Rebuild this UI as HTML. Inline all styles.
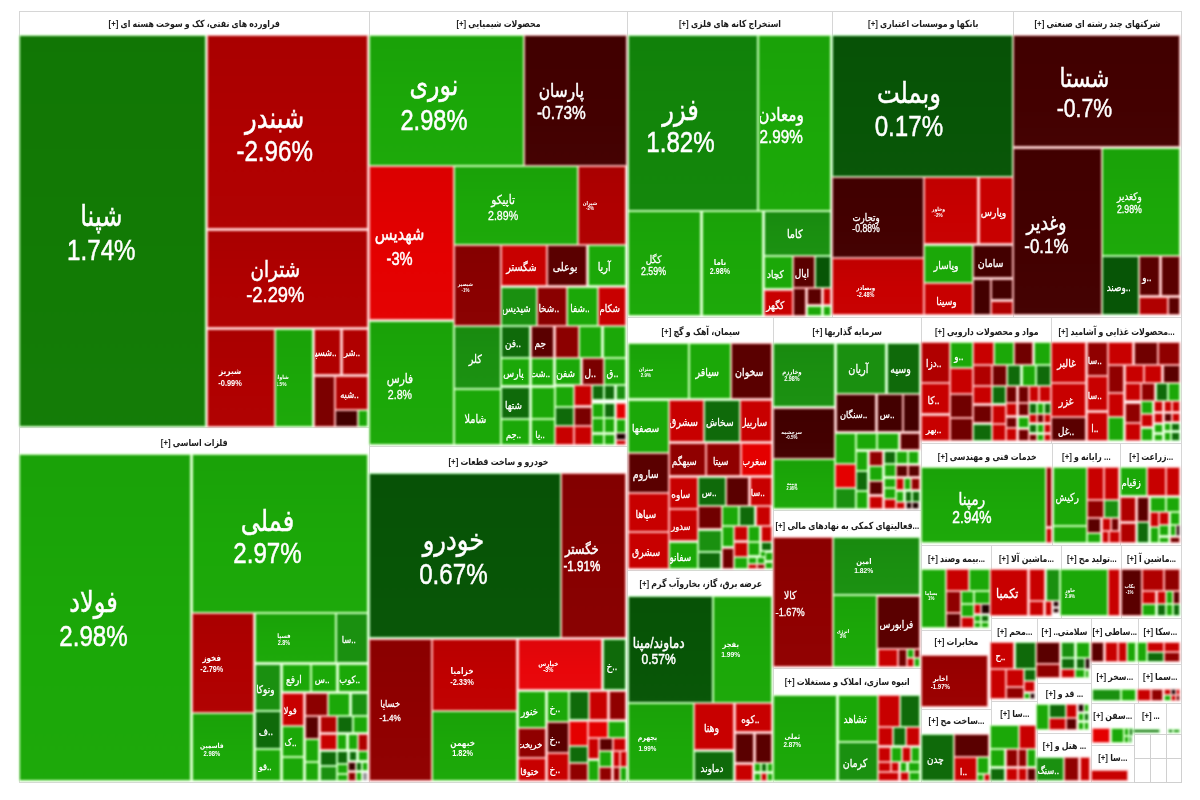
<!DOCTYPE html>
<html lang="fa">
<head>
<meta charset="utf-8">
<title>نقشه بازار</title>
<style>
html,body{margin:0;padding:0;background:#fff;}
body{width:1200px;height:800px;position:relative;overflow:hidden;font-family:"Liberation Sans","DejaVu Sans",sans-serif;}
.layer{position:absolute;left:0;top:0;width:1200px;height:800px;}
#frames{filter:blur(0.5px);}
#tiles{filter:blur(0.9px);}
#heads{filter:blur(0.35px);}
#labels{filter:blur(0.35px);}
.g{position:absolute;box-sizing:border-box;border:1px solid #d6d6d6;background:#fff;}
.h{position:absolute;text-align:center;direction:rtl;font-weight:bold;font-size:9.8px;color:#1c1c1c;white-space:nowrap;overflow:hidden;letter-spacing:-0.2px;}
.h span{display:block;transform:scaleX(.8);margin:0 -40px;}
.t{position:absolute;}
.gr{background-image:linear-gradient(180deg,rgba(0,0,0,.04) 0%,rgba(0,0,0,0) 60%,rgba(255,255,255,.012) 100%);}
.l{position:absolute;display:flex;flex-direction:column;align-items:center;justify-content:center;color:#fff;text-align:center;white-space:nowrap;box-sizing:border-box;overflow:hidden;}
.l span{display:block;transform:scaleX(0.8184);}
.l span.two{transform:translateX(-12.5px) scaleX(0.8184);}
.l b{font-weight:inherit;display:block;direction:rtl;}
.l i{font-style:normal;display:block;direction:ltr;}
.e{position:absolute;box-sizing:border-box;border:1px solid #d0d0d0;background:#fff;}
</style>
</head>
<body>
<div class="layer" id="frames">
<div class="g" style="left:19px;top:11px;width:350.5px;height:417px"></div>
<div class="g" style="left:368.5px;top:11px;width:259px;height:436px"></div>
<div class="g" style="left:626.5px;top:11px;width:206px;height:307px"></div>
<div class="g" style="left:831.5px;top:11px;width:182.5px;height:307px"></div>
<div class="g" style="left:1013px;top:11px;width:169px;height:307px"></div>
<div class="g" style="left:19px;top:427px;width:350.5px;height:356px"></div>
<div class="g" style="left:368.5px;top:446px;width:259px;height:337px"></div>
<div class="g" style="left:626.5px;top:317px;width:147.5px;height:254px"></div>
<div class="g" style="left:773px;top:317px;width:148.5px;height:194px"></div>
<div class="g" style="left:920.5px;top:317px;width:131.5px;height:127px"></div>
<div class="g" style="left:1051px;top:317px;width:131px;height:127px"></div>
<div class="g" style="left:626.5px;top:570px;width:147.5px;height:213px"></div>
<div class="g" style="left:773px;top:510px;width:148.5px;height:159px"></div>
<div class="g" style="left:773px;top:668px;width:148.5px;height:115px"></div>
<div class="g" style="left:920.5px;top:443px;width:132.5px;height:103px"></div>
<div class="g" style="left:1052px;top:443px;width:68.7px;height:103px"></div>
<div class="g" style="left:1119.7px;top:443px;width:62.3px;height:103px"></div>
<div class="g" style="left:920.5px;top:545px;width:71px;height:86px"></div>
<div class="g" style="left:990.5px;top:545px;width:71px;height:74px"></div>
<div class="g" style="left:1060.5px;top:545px;width:61.5px;height:74px"></div>
<div class="g" style="left:1121px;top:545px;width:61px;height:74px"></div>
<div class="g" style="left:920.5px;top:630px;width:71px;height:80px"></div>
<div class="g" style="left:920.5px;top:709px;width:71px;height:74px"></div>
<div class="g" style="left:990.5px;top:618px;width:47.5px;height:84px"></div>
<div class="g" style="left:990.5px;top:701px;width:47.5px;height:82px"></div>
<div class="g" style="left:1037px;top:618px;width:55px;height:66px"></div>
<div class="g" style="left:1037px;top:683px;width:55px;height:51px"></div>
<div class="g" style="left:1037px;top:733px;width:55px;height:50px"></div>
<div class="g" style="left:1091px;top:618px;width:47.5px;height:47px"></div>
<div class="g" style="left:1091px;top:664px;width:47.5px;height:40px"></div>
<div class="g" style="left:1091px;top:703px;width:43.5px;height:43px"></div>
<div class="g" style="left:1091px;top:745px;width:43.5px;height:38px"></div>
<div class="g" style="left:1137.5px;top:618px;width:44.5px;height:47px"></div>
<div class="g" style="left:1137.5px;top:664px;width:44.5px;height:40px"></div>
<div class="g" style="left:1133.5px;top:703px;width:33.5px;height:32px"></div>
<div class="g" style="left:1166px;top:703px;width:16px;height:32px"></div>
<div class="e" style="left:1133.5px;top:734px;width:17.5px;height:25px"></div>
<div class="e" style="left:1150px;top:734px;width:16.5px;height:25px"></div>
<div class="e" style="left:1165.5px;top:734px;width:16.5px;height:25px"></div>
<div class="e" style="left:1133.5px;top:758px;width:17.5px;height:25px"></div>
<div class="e" style="left:1150px;top:758px;width:16.5px;height:25px"></div>
<div class="e" style="left:1165.5px;top:758px;width:16.5px;height:25px"></div>
</div>
<div class="layer" id="tiles">
<div class="t gr" style="left:20.25px;top:36.25px;width:185.15px;height:389.5px;background-color:#127b05;box-shadow:0 0 0 1.1px #c1ffb4"></div>
<div class="t gr" style="left:207.6px;top:36.25px;width:159.4px;height:192.15px;background-color:#b00000;box-shadow:0 0 0 1.1px #ffafaf"></div>
<div class="t gr" style="left:207.6px;top:230.6px;width:159.4px;height:96.8px;background-color:#b00000;box-shadow:0 0 0 1.1px #ffafaf"></div>
<div class="t gr" style="left:207.6px;top:329.6px;width:66.3px;height:96.15px;background-color:#b00000;box-shadow:0 0 0 1.1px #ffafaf"></div>
<div class="t gr" style="left:276.1px;top:329.6px;width:36.3px;height:96.15px;background-color:#1ba808;box-shadow:0 0 0 1.1px #caffb7"></div>
<div class="t" style="left:314.6px;top:329.6px;width:25.8px;height:44.4px;background-color:#b00000;box-shadow:0 0 0 1.1px #ffafaf"></div>
<div class="t" style="left:342.6px;top:329.6px;width:24.4px;height:44.4px;background-color:#b00000;box-shadow:0 0 0 1.1px #ffafaf"></div>
<div class="t" style="left:314.6px;top:377px;width:19.3px;height:48.75px;background-color:#7c0000;box-shadow:0 0 0 1.1px #ffafaf"></div>
<div class="t" style="left:336.1px;top:377px;width:30.9px;height:31.9px;background-color:#b00000;box-shadow:0 0 0 1.1px #ffafaf"></div>
<div class="t" style="left:336.1px;top:411.1px;width:20.9px;height:14.65px;background-color:#430000;box-shadow:0 0 0 1.1px #f2afaf"></div>
<div class="t" style="left:359px;top:411.1px;width:8px;height:14.65px;background-color:#1ba808;box-shadow:0 0 0 1.1px #caffb7"></div>
<div class="t gr" style="left:370px;top:36.25px;width:152.5px;height:128.4px;background-color:#1ba808;box-shadow:0 0 0 1.1px #caffb7"></div>
<div class="t gr" style="left:524.5px;top:36.25px;width:101px;height:128.4px;background-color:#430000;box-shadow:0 0 0 1.1px #f2afaf"></div>
<div class="t gr" style="left:370px;top:166.85px;width:82.9px;height:152.15px;background-color:#e40000;box-shadow:0 0 0 1.1px #ffafaf"></div>
<div class="t gr" style="left:455.1px;top:166.85px;width:122.05px;height:77.05px;background-color:#1ba808;box-shadow:0 0 0 1.1px #caffb7"></div>
<div class="t gr" style="left:579.35px;top:166.85px;width:46.15px;height:77.05px;background-color:#b00000;box-shadow:0 0 0 1.1px #ffafaf"></div>
<div class="t gr" style="left:455.35px;top:246.1px;width:44.3px;height:78.55px;background-color:#8a0000;box-shadow:0 0 0 1.1px #ffafaf"></div>
<div class="t" style="left:501.85px;top:246.1px;width:44.3px;height:38.9px;background-color:#c80000;box-shadow:0 0 0 1.1px #ffafaf"></div>
<div class="t" style="left:548.35px;top:246.1px;width:38.05px;height:38.9px;background-color:#5a0000;box-shadow:0 0 0 1.1px #ffafaf"></div>
<div class="t" style="left:588.6px;top:246.1px;width:36.9px;height:38.9px;background-color:#1ba808;box-shadow:0 0 0 1.1px #caffb7"></div>
<div class="t" style="left:501.85px;top:288px;width:33.8px;height:36.9px;background-color:#1a9010;box-shadow:0 0 0 1.1px #c9ffbf"></div>
<div class="t" style="left:537.85px;top:288px;width:28.3px;height:36.9px;background-color:#8a0000;box-shadow:0 0 0 1.1px #ffafaf"></div>
<div class="t" style="left:568.35px;top:288px;width:28.3px;height:36.9px;background-color:#1ba808;box-shadow:0 0 0 1.1px #caffb7"></div>
<div class="t" style="left:598.85px;top:288px;width:26.65px;height:36.9px;background-color:#c80000;box-shadow:0 0 0 1.1px #ffafaf"></div>
<div class="t gr" style="left:370px;top:321.5px;width:83.15px;height:122.75px;background-color:#1ba808;box-shadow:0 0 0 1.1px #caffb7"></div>
<div class="t gr" style="left:455.35px;top:326.85px;width:44.55px;height:61.3px;background-color:#1a9010;box-shadow:0 0 0 1.1px #c9ffbf"></div>
<div class="t" style="left:455.35px;top:390.35px;width:44.55px;height:53.9px;background-color:#1ba808;box-shadow:0 0 0 1.1px #caffb7"></div>
<div class="t" style="left:502.1px;top:327.1px;width:27.3px;height:29.8px;background-color:#0f6a0a;box-shadow:0 0 0 1.1px #beffb9"></div>
<div class="t" style="left:531.6px;top:327.1px;width:21.8px;height:29.8px;background-color:#5a0000;box-shadow:0 0 0 1.1px #ffafaf"></div>
<div class="t" style="left:555.6px;top:327.1px;width:22.05px;height:29.8px;background-color:#8c0000;box-shadow:0 0 0 1.1px #ffafaf"></div>
<div class="t" style="left:579.85px;top:327.1px;width:21.55px;height:29.8px;background-color:#1ba808;box-shadow:0 0 0 1.1px #caffb7"></div>
<div class="t" style="left:603.6px;top:327.1px;width:21.9px;height:29.8px;background-color:#1ba808;box-shadow:0 0 0 1.1px #caffb7"></div>
<div class="t" style="left:502.1px;top:359.1px;width:27.3px;height:25.9px;background-color:#1ba808;box-shadow:0 0 0 1.1px #caffb7"></div>
<div class="t" style="left:531.6px;top:359.1px;width:21.8px;height:25.9px;background-color:#1ba808;box-shadow:0 0 0 1.1px #caffb7"></div>
<div class="t" style="left:555.6px;top:359.1px;width:24.8px;height:24.9px;background-color:#1ba808;box-shadow:0 0 0 1.1px #caffb7"></div>
<div class="t" style="left:582.6px;top:359.1px;width:20.05px;height:24.9px;background-color:#7a0000;box-shadow:0 0 0 1.1px #ffafaf"></div>
<div class="t" style="left:604.85px;top:359.1px;width:20.65px;height:24.9px;background-color:#1ba808;box-shadow:0 0 0 1.1px #caffb7"></div>
<div class="t" style="left:502.1px;top:388px;width:27.3px;height:30.15px;background-color:#0f6a0a;box-shadow:0 0 0 1.1px #beffb9"></div>
<div class="t" style="left:531.6px;top:388px;width:22.3px;height:30.15px;background-color:#1ba808;box-shadow:0 0 0 1.1px #caffb7"></div>
<div class="t" style="left:502.1px;top:420.35px;width:27.3px;height:23.9px;background-color:#1ba808;box-shadow:0 0 0 1.1px #caffb7"></div>
<div class="t" style="left:531.6px;top:420.35px;width:22.3px;height:23.9px;background-color:#1ba808;box-shadow:0 0 0 1.1px #caffb7"></div>
<div class="t" style="left:556.1px;top:386.85px;width:17.05px;height:19.05px;background-color:#1ba808;box-shadow:0 0 0 1.1px #caffb7"></div>
<div class="t" style="left:575.35px;top:386px;width:15.55px;height:19px;background-color:#c80000;box-shadow:0 0 0 1.1px #ffafaf"></div>
<div class="t" style="left:593.1px;top:386px;width:9.55px;height:12.5px;background-color:#0f6a0a;box-shadow:0 0 0 1.1px #beffb9"></div>
<div class="t" style="left:604.85px;top:386px;width:9.55px;height:12.5px;background-color:#0f6a0a;box-shadow:0 0 0 1.1px #beffb9"></div>
<div class="t" style="left:616.6px;top:386px;width:8.9px;height:12.5px;background-color:#1a9010;box-shadow:0 0 0 1.1px #c9ffbf"></div>
<div class="t" style="left:556.1px;top:408.1px;width:17.05px;height:16.55px;background-color:#0f6a0a;box-shadow:0 0 0 1.1px #beffb9"></div>
<div class="t" style="left:575.35px;top:408px;width:15.55px;height:16.65px;background-color:#7a0000;box-shadow:0 0 0 1.1px #ffafaf"></div>
<div class="t" style="left:593.1px;top:404px;width:9.55px;height:12.9px;background-color:#1ba808;box-shadow:0 0 0 1.1px #caffb7"></div>
<div class="t" style="left:604.85px;top:404px;width:9.55px;height:12.9px;background-color:#0f6a0a;box-shadow:0 0 0 1.1px #beffb9"></div>
<div class="t" style="left:616.6px;top:404px;width:8.9px;height:13.65px;background-color:#e40000;box-shadow:0 0 0 1.1px #ffafaf"></div>
<div class="t" style="left:556.1px;top:426.85px;width:17.05px;height:17.4px;background-color:#c80000;box-shadow:0 0 0 1.1px #ffafaf"></div>
<div class="t" style="left:575.35px;top:426.85px;width:15.55px;height:17.4px;background-color:#c80000;box-shadow:0 0 0 1.1px #ffafaf"></div>
<div class="t" style="left:593.1px;top:419.1px;width:9.55px;height:12.9px;background-color:#1ba808;box-shadow:0 0 0 1.1px #caffb7"></div>
<div class="t" style="left:604.85px;top:419.1px;width:9.55px;height:12.9px;background-color:#1ba808;box-shadow:0 0 0 1.1px #caffb7"></div>
<div class="t" style="left:616.6px;top:419.85px;width:8.9px;height:12.05px;background-color:#1ba808;box-shadow:0 0 0 1.1px #caffb7"></div>
<div class="t" style="left:593.1px;top:435px;width:9.55px;height:9.25px;background-color:#1ba808;box-shadow:0 0 0 1.1px #caffb7"></div>
<div class="t" style="left:604.85px;top:435px;width:9.55px;height:9.25px;background-color:#1ba808;box-shadow:0 0 0 1.1px #caffb7"></div>
<div class="t" style="left:616.6px;top:434.1px;width:8.9px;height:4.9px;background-color:#1c0000;box-shadow:0 0 0 1.1px #cbafaf"></div>
<div class="t" style="left:616.6px;top:441px;width:8.9px;height:3.25px;background-color:#c80000;box-shadow:0 0 0 1.1px #ffafaf"></div>
<div class="t gr" style="left:628.5px;top:36.25px;width:128.15px;height:173.4px;background-color:#12860a;box-shadow:0 0 0 1.1px #c1ffb9"></div>
<div class="t gr" style="left:758.85px;top:36.25px;width:71.15px;height:173.4px;background-color:#1ba808;box-shadow:0 0 0 1.1px #caffb7"></div>
<div class="t gr" style="left:628.5px;top:211.85px;width:71.9px;height:102.9px;background-color:#1ba808;box-shadow:0 0 0 1.1px #caffb7"></div>
<div class="t gr" style="left:702.6px;top:211.85px;width:59.8px;height:102.9px;background-color:#1ba808;box-shadow:0 0 0 1.1px #caffb7"></div>
<div class="t gr" style="left:764.6px;top:211.85px;width:65.4px;height:42.8px;background-color:#1a9010;box-shadow:0 0 0 1.1px #c9ffbf"></div>
<div class="t" style="left:764.6px;top:256.85px;width:27.05px;height:31.65px;background-color:#1ba808;box-shadow:0 0 0 1.1px #caffb7"></div>
<div class="t" style="left:793.85px;top:256.85px;width:20.15px;height:30.05px;background-color:#5a0000;box-shadow:0 0 0 1.1px #ffafaf"></div>
<div class="t" style="left:816px;top:256.85px;width:14px;height:30.05px;background-color:#075506;box-shadow:0 0 0 1.1px #b6ffb5"></div>
<div class="t" style="left:764.6px;top:291px;width:27.05px;height:23.75px;background-color:#c80000;box-shadow:0 0 0 1.1px #ffafaf"></div>
<div class="t" style="left:793.85px;top:289.1px;width:11.55px;height:25.65px;background-color:#5a0000;box-shadow:0 0 0 1.1px #ffafaf"></div>
<div class="t" style="left:807.6px;top:289.1px;width:13.8px;height:15.3px;background-color:#5a0000;box-shadow:0 0 0 1.1px #ffafaf"></div>
<div class="t" style="left:823.6px;top:289.1px;width:6.4px;height:15.3px;background-color:#c80000;box-shadow:0 0 0 1.1px #ffafaf"></div>
<div class="t" style="left:807.6px;top:306.6px;width:13.8px;height:8.15px;background-color:#1ba808;box-shadow:0 0 0 1.1px #caffb7"></div>
<div class="t" style="left:823.6px;top:306.6px;width:6.4px;height:8.15px;background-color:#1ba808;box-shadow:0 0 0 1.1px #caffb7"></div>
<div class="t gr" style="left:833px;top:36.25px;width:178.9px;height:139.65px;background-color:#075506;box-shadow:0 0 0 1.1px #b6ffb5"></div>
<div class="t gr" style="left:833px;top:178.1px;width:90.15px;height:78.8px;background-color:#430000;box-shadow:0 0 0 1.1px #f2afaf"></div>
<div class="t gr" style="left:833px;top:259.1px;width:90.15px;height:55.15px;background-color:#c80000;box-shadow:0 0 0 1.1px #ffafaf"></div>
<div class="t gr" style="left:925.35px;top:178.1px;width:52.05px;height:65.4px;background-color:#c80000;box-shadow:0 0 0 1.1px #ffafaf"></div>
<div class="t" style="left:979.6px;top:178.1px;width:32.3px;height:65.4px;background-color:#c80000;box-shadow:0 0 0 1.1px #ffafaf"></div>
<div class="t" style="left:925.35px;top:246px;width:46.8px;height:35.9px;background-color:#1ba808;box-shadow:0 0 0 1.1px #caffb7"></div>
<div class="t" style="left:974.35px;top:246px;width:37.55px;height:31.4px;background-color:#430000;box-shadow:0 0 0 1.1px #f2afaf"></div>
<div class="t" style="left:925.35px;top:284.1px;width:46.8px;height:30.15px;background-color:#c80000;box-shadow:0 0 0 1.1px #ffafaf"></div>
<div class="t" style="left:974.35px;top:279.6px;width:15.55px;height:34.65px;background-color:#430000;box-shadow:0 0 0 1.1px #f2afaf"></div>
<div class="t" style="left:992.1px;top:279.6px;width:19.8px;height:19.8px;background-color:#430000;box-shadow:0 0 0 1.1px #f2afaf"></div>
<div class="t" style="left:992.1px;top:301.6px;width:19.8px;height:12.65px;background-color:#b00000;box-shadow:0 0 0 1.1px #ffafaf"></div>
<div class="t gr" style="left:1014.1px;top:36.25px;width:164.65px;height:110.15px;background-color:#430000;box-shadow:0 0 0 1.1px #f2afaf"></div>
<div class="t gr" style="left:1014.1px;top:148.6px;width:87.05px;height:165.65px;background-color:#430000;box-shadow:0 0 0 1.1px #f2afaf"></div>
<div class="t gr" style="left:1103.35px;top:148.6px;width:75.4px;height:106.05px;background-color:#1ba808;box-shadow:0 0 0 1.1px #caffb7"></div>
<div class="t" style="left:1103.35px;top:256.85px;width:34.55px;height:57.4px;background-color:#075506;box-shadow:0 0 0 1.1px #b6ffb5"></div>
<div class="t" style="left:1140.1px;top:256.85px;width:19.3px;height:38.15px;background-color:#5a0000;box-shadow:0 0 0 1.1px #ffafaf"></div>
<div class="t" style="left:1161.6px;top:256.85px;width:17.15px;height:38.15px;background-color:#5a0000;box-shadow:0 0 0 1.1px #ffafaf"></div>
<div class="t" style="left:1140.1px;top:298px;width:26.8px;height:16.25px;background-color:#b00000;box-shadow:0 0 0 1.1px #ffafaf"></div>
<div class="t" style="left:1169.1px;top:298px;width:9.65px;height:16.25px;background-color:#5a0000;box-shadow:0 0 0 1.1px #ffafaf"></div>
<div class="t gr" style="left:20.25px;top:455.25px;width:170.15px;height:325px;background-color:#1ba808;box-shadow:0 0 0 1.1px #caffb7"></div>
<div class="t gr" style="left:192.6px;top:455.25px;width:174.4px;height:156.4px;background-color:#1ba808;box-shadow:0 0 0 1.1px #caffb7"></div>
<div class="t gr" style="left:192.6px;top:613.85px;width:60.8px;height:97.8px;background-color:#b00000;box-shadow:0 0 0 1.1px #ffafaf"></div>
<div class="t gr" style="left:192.6px;top:713.85px;width:60.8px;height:66.4px;background-color:#1ba808;box-shadow:0 0 0 1.1px #caffb7"></div>
<div class="t gr" style="left:255.6px;top:613.85px;width:79.3px;height:48.15px;background-color:#1ba808;box-shadow:0 0 0 1.1px #caffb7"></div>
<div class="t" style="left:337.1px;top:613.85px;width:29.9px;height:48.15px;background-color:#1a9010;box-shadow:0 0 0 1.1px #c9ffbf"></div>
<div class="t" style="left:255.6px;top:664.5px;width:24.8px;height:45.15px;background-color:#1a9010;box-shadow:0 0 0 1.1px #c9ffbf"></div>
<div class="t" style="left:282.6px;top:664.5px;width:27.3px;height:26.9px;background-color:#1ba808;box-shadow:0 0 0 1.1px #caffb7"></div>
<div class="t" style="left:312.1px;top:664.5px;width:24.3px;height:26.9px;background-color:#1ba808;box-shadow:0 0 0 1.1px #caffb7"></div>
<div class="t" style="left:338.6px;top:664.5px;width:28.4px;height:26.9px;background-color:#1ba808;box-shadow:0 0 0 1.1px #caffb7"></div>
<div class="t" style="left:255.6px;top:711.85px;width:24.8px;height:36.05px;background-color:#0f6a0a;box-shadow:0 0 0 1.1px #beffb9"></div>
<div class="t" style="left:255.6px;top:750.1px;width:24.8px;height:30.15px;background-color:#1ba808;box-shadow:0 0 0 1.1px #caffb7"></div>
<div class="t" style="left:282.6px;top:693.6px;width:20.8px;height:31.05px;background-color:#c80000;box-shadow:0 0 0 1.1px #ffafaf"></div>
<div class="t" style="left:282.6px;top:726.85px;width:20.8px;height:29.05px;background-color:#1ba808;box-shadow:0 0 0 1.1px #caffb7"></div>
<div class="t" style="left:282.6px;top:758.1px;width:20.8px;height:22.15px;background-color:#1ba808;box-shadow:0 0 0 1.1px #caffb7"></div>
<div class="t" style="left:305.6px;top:693.6px;width:21.05px;height:21.05px;background-color:#8c0000;box-shadow:0 0 0 1.1px #ffafaf"></div>
<div class="t" style="left:328.85px;top:693.6px;width:20.55px;height:21.05px;background-color:#1ba808;box-shadow:0 0 0 1.1px #caffb7"></div>
<div class="t" style="left:351.6px;top:693.6px;width:15.4px;height:21.05px;background-color:#1a9010;box-shadow:0 0 0 1.1px #c9ffbf"></div>
<div class="t" style="left:305.6px;top:716.85px;width:12.8px;height:21.3px;background-color:#5a0000;box-shadow:0 0 0 1.1px #ffafaf"></div>
<div class="t" style="left:320.6px;top:716.85px;width:15.55px;height:15.15px;background-color:#b00000;box-shadow:0 0 0 1.1px #ffafaf"></div>
<div class="t" style="left:338.35px;top:716.85px;width:13.3px;height:15.15px;background-color:#0f6a0a;box-shadow:0 0 0 1.1px #beffb9"></div>
<div class="t" style="left:353.85px;top:716.85px;width:13.15px;height:15.15px;background-color:#1ba808;box-shadow:0 0 0 1.1px #caffb7"></div>
<div class="t" style="left:305.6px;top:740.35px;width:12.8px;height:20.55px;background-color:#1ba808;box-shadow:0 0 0 1.1px #caffb7"></div>
<div class="t" style="left:305.6px;top:763.1px;width:12.8px;height:17.15px;background-color:#1ba808;box-shadow:0 0 0 1.1px #caffb7"></div>
<div class="t" style="left:320.6px;top:735px;width:15.55px;height:13.5px;background-color:#c80000;box-shadow:0 0 0 1.1px #ffafaf"></div>
<div class="t" style="left:338.35px;top:735px;width:8.05px;height:13.5px;background-color:#1ba808;box-shadow:0 0 0 1.1px #caffb7"></div>
<div class="t" style="left:348.6px;top:735px;width:8.05px;height:13.5px;background-color:#1ba808;box-shadow:0 0 0 1.1px #caffb7"></div>
<div class="t" style="left:358.85px;top:735px;width:8.15px;height:14.65px;background-color:#b00000;box-shadow:0 0 0 1.1px #ffafaf"></div>
<div class="t" style="left:320.6px;top:751.5px;width:15.55px;height:13.4px;background-color:#0f6a0a;box-shadow:0 0 0 1.1px #beffb9"></div>
<div class="t" style="left:338.35px;top:751.5px;width:9.05px;height:11.4px;background-color:#0f6a0a;box-shadow:0 0 0 1.1px #beffb9"></div>
<div class="t" style="left:349.6px;top:751.5px;width:6.8px;height:8.9px;background-color:#0f6a0a;box-shadow:0 0 0 1.1px #beffb9"></div>
<div class="t" style="left:358.6px;top:751.85px;width:8.4px;height:8.55px;background-color:#1ba808;box-shadow:0 0 0 1.1px #caffb7"></div>
<div class="t" style="left:320.6px;top:767.1px;width:15.55px;height:13.15px;background-color:#1a9010;box-shadow:0 0 0 1.1px #c9ffbf"></div>
<div class="t" style="left:338.35px;top:765.1px;width:8.8px;height:7.55px;background-color:#1ba808;box-shadow:0 0 0 1.1px #caffb7"></div>
<div class="t" style="left:349.35px;top:762.6px;width:5.3px;height:7.8px;background-color:#3a0000;box-shadow:0 0 0 1.1px #e9afaf"></div>
<div class="t" style="left:356.85px;top:762.6px;width:4.15px;height:7.8px;background-color:#0f6a0a;box-shadow:0 0 0 1.1px #beffb9"></div>
<div class="t" style="left:363px;top:762.6px;width:4px;height:7.8px;background-color:#1ba808;box-shadow:0 0 0 1.1px #caffb7"></div>
<div class="t" style="left:338.35px;top:774.85px;width:8.8px;height:5.4px;background-color:#1ba808;box-shadow:0 0 0 1.1px #caffb7"></div>
<div class="t" style="left:349.35px;top:772.6px;width:5.3px;height:7.65px;background-color:#8c0000;box-shadow:0 0 0 1.1px #ffafaf"></div>
<div class="t" style="left:356.85px;top:772.6px;width:4.15px;height:7.65px;background-color:#1ba808;box-shadow:0 0 0 1.1px #caffb7"></div>
<div class="t" style="left:363px;top:772.6px;width:4px;height:7.65px;background-color:#999;box-shadow:0 0 0 1.1px #ffffff"></div>
<div class="t gr" style="left:370px;top:474.25px;width:189.65px;height:162.75px;background-color:#075506;box-shadow:0 0 0 1.1px #b6ffb5"></div>
<div class="t gr" style="left:561.85px;top:474.25px;width:63.65px;height:162.75px;background-color:#880000;box-shadow:0 0 0 1.1px #ffafaf"></div>
<div class="t gr" style="left:370px;top:640px;width:60.9px;height:139.75px;background-color:#900000;box-shadow:0 0 0 1.1px #ffafaf"></div>
<div class="t gr" style="left:433.1px;top:640px;width:82.9px;height:69.65px;background-color:#c00000;box-shadow:0 0 0 1.1px #ffafaf"></div>
<div class="t gr" style="left:433.1px;top:711.85px;width:82.9px;height:67.9px;background-color:#1ba808;box-shadow:0 0 0 1.1px #caffb7"></div>
<div class="t gr" style="left:518.5px;top:640px;width:82.9px;height:49px;background-color:#e8060a;box-shadow:0 0 0 1.1px #ffb5b9"></div>
<div class="t" style="left:603.6px;top:640px;width:21.9px;height:49px;background-color:#0f6a0a;box-shadow:0 0 0 1.1px #beffb9"></div>
<div class="t" style="left:518.5px;top:691.5px;width:26.9px;height:35.4px;background-color:#1ba808;box-shadow:0 0 0 1.1px #caffb7"></div>
<div class="t" style="left:547.6px;top:691.5px;width:20.3px;height:29.4px;background-color:#1ba808;box-shadow:0 0 0 1.1px #caffb7"></div>
<div class="t" style="left:570.1px;top:691.5px;width:18.05px;height:27px;background-color:#0f6a0a;box-shadow:0 0 0 1.1px #beffb9"></div>
<div class="t" style="left:590.35px;top:691.5px;width:17.05px;height:27px;background-color:#c80000;box-shadow:0 0 0 1.1px #ffafaf"></div>
<div class="t" style="left:609.6px;top:691.5px;width:15.9px;height:27px;background-color:#900000;box-shadow:0 0 0 1.1px #ffafaf"></div>
<div class="t" style="left:518.5px;top:729.1px;width:26.9px;height:27.8px;background-color:#900000;box-shadow:0 0 0 1.1px #ffafaf"></div>
<div class="t" style="left:518.5px;top:759.1px;width:26.9px;height:20.65px;background-color:#c80000;box-shadow:0 0 0 1.1px #ffafaf"></div>
<div class="t" style="left:547.6px;top:723.1px;width:20.3px;height:28.8px;background-color:#5a0000;box-shadow:0 0 0 1.1px #ffafaf"></div>
<div class="t" style="left:547.6px;top:754.1px;width:20.3px;height:25.65px;background-color:#c80000;box-shadow:0 0 0 1.1px #ffafaf"></div>
<div class="t" style="left:570.1px;top:721.5px;width:16.55px;height:23.15px;background-color:#e40000;box-shadow:0 0 0 1.1px #ffafaf"></div>
<div class="t" style="left:588.85px;top:721.5px;width:17.8px;height:15.4px;background-color:#e40000;box-shadow:0 0 0 1.1px #ffafaf"></div>
<div class="t" style="left:608.85px;top:721.5px;width:16.65px;height:15.4px;background-color:#1ba808;box-shadow:0 0 0 1.1px #caffb7"></div>
<div class="t" style="left:570.1px;top:746.85px;width:16.55px;height:15.05px;background-color:#0f6a0a;box-shadow:0 0 0 1.1px #beffb9"></div>
<div class="t" style="left:570.1px;top:764.1px;width:16.55px;height:15.65px;background-color:#900000;box-shadow:0 0 0 1.1px #ffafaf"></div>
<div class="t" style="left:588.85px;top:739.1px;width:9.3px;height:19.4px;background-color:#c80000;box-shadow:0 0 0 1.1px #ffafaf"></div>
<div class="t" style="left:600.35px;top:739.1px;width:11.3px;height:10.8px;background-color:#5a0000;box-shadow:0 0 0 1.1px #ffafaf"></div>
<div class="t" style="left:613.85px;top:739.1px;width:11.65px;height:10.8px;background-color:#c80000;box-shadow:0 0 0 1.1px #ffafaf"></div>
<div class="t" style="left:588.85px;top:761px;width:9.3px;height:18.75px;background-color:#1ba808;box-shadow:0 0 0 1.1px #caffb7"></div>
<div class="t" style="left:600.35px;top:752.1px;width:11.05px;height:13.8px;background-color:#1ba808;box-shadow:0 0 0 1.1px #caffb7"></div>
<div class="t" style="left:613.6px;top:752.1px;width:5.4px;height:13.8px;background-color:#c80000;box-shadow:0 0 0 1.1px #ffafaf"></div>
<div class="t" style="left:621px;top:752.1px;width:4.5px;height:13.8px;background-color:#c80000;box-shadow:0 0 0 1.1px #ffafaf"></div>
<div class="t" style="left:600.35px;top:768.1px;width:11.05px;height:11.65px;background-color:#900000;box-shadow:0 0 0 1.1px #ffafaf"></div>
<div class="t" style="left:613.6px;top:768.1px;width:5.4px;height:11.65px;background-color:#900000;box-shadow:0 0 0 1.1px #ffafaf"></div>
<div class="t" style="left:621px;top:768.1px;width:4.5px;height:11.65px;background-color:#1ba808;box-shadow:0 0 0 1.1px #caffb7"></div>
<div class="t gr" style="left:628.5px;top:344.25px;width:59.65px;height:53.75px;background-color:#1ba808;box-shadow:0 0 0 1.1px #caffb7"></div>
<div class="t" style="left:690.35px;top:344.25px;width:39.55px;height:53.75px;background-color:#1ba808;box-shadow:0 0 0 1.1px #caffb7"></div>
<div class="t" style="left:732.1px;top:344.25px;width:39.4px;height:53.75px;background-color:#5a0000;box-shadow:0 0 0 1.1px #ffafaf"></div>
<div class="t" style="left:628.5px;top:401px;width:39.15px;height:50.9px;background-color:#1ba808;box-shadow:0 0 0 1.1px #caffb7"></div>
<div class="t" style="left:669.85px;top:401px;width:33.3px;height:40px;background-color:#c80000;box-shadow:0 0 0 1.1px #ffafaf"></div>
<div class="t" style="left:705.35px;top:401px;width:33.55px;height:40px;background-color:#0f6a0a;box-shadow:0 0 0 1.1px #beffb9"></div>
<div class="t" style="left:741.1px;top:401px;width:30.4px;height:40px;background-color:#c80000;box-shadow:0 0 0 1.1px #ffafaf"></div>
<div class="t" style="left:669.85px;top:444px;width:35.05px;height:31px;background-color:#900000;box-shadow:0 0 0 1.1px #ffafaf"></div>
<div class="t" style="left:707.1px;top:444px;width:33.05px;height:31px;background-color:#900000;box-shadow:0 0 0 1.1px #ffafaf"></div>
<div class="t" style="left:742.35px;top:444px;width:29.15px;height:31px;background-color:#e40000;box-shadow:0 0 0 1.1px #ffafaf"></div>
<div class="t" style="left:628.5px;top:454.1px;width:39.15px;height:37.8px;background-color:#5a0000;box-shadow:0 0 0 1.1px #ffafaf"></div>
<div class="t" style="left:628.5px;top:494.1px;width:39.15px;height:36.8px;background-color:#c80000;box-shadow:0 0 0 1.1px #ffafaf"></div>
<div class="t" style="left:628.5px;top:533.1px;width:39.15px;height:34.65px;background-color:#c80000;box-shadow:0 0 0 1.1px #ffafaf"></div>
<div class="t" style="left:669.85px;top:478px;width:27.05px;height:29.9px;background-color:#c80000;box-shadow:0 0 0 1.1px #ffafaf"></div>
<div class="t" style="left:669.85px;top:510.1px;width:27.05px;height:30.4px;background-color:#c80000;box-shadow:0 0 0 1.1px #ffafaf"></div>
<div class="t" style="left:669.85px;top:543px;width:27.05px;height:24.75px;background-color:#1ba808;box-shadow:0 0 0 1.1px #caffb7"></div>
<div class="t" style="left:699.1px;top:478px;width:25.8px;height:26.9px;background-color:#0f6a0a;box-shadow:0 0 0 1.1px #beffb9"></div>
<div class="t" style="left:727.1px;top:478px;width:21.3px;height:26.9px;background-color:#5a0000;box-shadow:0 0 0 1.1px #ffafaf"></div>
<div class="t" style="left:750.6px;top:478px;width:20.9px;height:26.9px;background-color:#c80000;box-shadow:0 0 0 1.1px #ffafaf"></div>
<div class="t" style="left:699.1px;top:507.1px;width:21.8px;height:20.9px;background-color:#700000;box-shadow:0 0 0 1.1px #ffafaf"></div>
<div class="t" style="left:723.1px;top:507.1px;width:15.05px;height:17.8px;background-color:#1ba808;box-shadow:0 0 0 1.1px #caffb7"></div>
<div class="t" style="left:740.35px;top:507.1px;width:14.05px;height:17.8px;background-color:#0f6a0a;box-shadow:0 0 0 1.1px #beffb9"></div>
<div class="t" style="left:756.6px;top:507.1px;width:13.65px;height:17.8px;background-color:#c80000;box-shadow:0 0 0 1.1px #ffafaf"></div>
<div class="t" style="left:699.1px;top:531px;width:21.8px;height:19.5px;background-color:#1a9010;box-shadow:0 0 0 1.1px #c9ffbf"></div>
<div class="t" style="left:723.1px;top:527.1px;width:9.8px;height:18.9px;background-color:#1ba808;box-shadow:0 0 0 1.1px #caffb7"></div>
<div class="t" style="left:735.1px;top:527.1px;width:11.8px;height:12.9px;background-color:#c80000;box-shadow:0 0 0 1.1px #ffafaf"></div>
<div class="t" style="left:749.1px;top:527.1px;width:10.3px;height:13.8px;background-color:#1ba808;box-shadow:0 0 0 1.1px #caffb7"></div>
<div class="t" style="left:761.6px;top:527.1px;width:9.9px;height:13.8px;background-color:#c80000;box-shadow:0 0 0 1.1px #ffafaf"></div>
<div class="t" style="left:699.1px;top:553px;width:21.3px;height:14.75px;background-color:#0f6a0a;box-shadow:0 0 0 1.1px #beffb9"></div>
<div class="t" style="left:722.6px;top:549px;width:10.3px;height:18.75px;background-color:#700000;box-shadow:0 0 0 1.1px #ffafaf"></div>
<div class="t" style="left:735.1px;top:543px;width:11.8px;height:12.9px;background-color:#c80000;box-shadow:0 0 0 1.1px #ffafaf"></div>
<div class="t" style="left:735.1px;top:558.1px;width:11.8px;height:9.65px;background-color:#1ba808;box-shadow:0 0 0 1.1px #caffb7"></div>
<div class="t" style="left:749.1px;top:543.1px;width:9.9px;height:12.3px;background-color:#1ba808;box-shadow:0 0 0 1.1px #caffb7"></div>
<div class="t" style="left:761.6px;top:543.1px;width:9.9px;height:6.9px;background-color:#0f6a0a;box-shadow:0 0 0 1.1px #beffb9"></div>
<div class="t" style="left:749.1px;top:557.6px;width:6.9px;height:5.4px;background-color:#1ba808;box-shadow:0 0 0 1.1px #caffb7"></div>
<div class="t" style="left:758px;top:558px;width:6px;height:5px;background-color:#1ba808;box-shadow:0 0 0 1.1px #caffb7"></div>
<div class="t" style="left:766px;top:552.6px;width:5.5px;height:7.8px;background-color:#1ba808;box-shadow:0 0 0 1.1px #caffb7"></div>
<div class="t" style="left:761px;top:551.5px;width:3.5px;height:4.5px;background-color:#1ba808;box-shadow:0 0 0 1.1px #caffb7"></div>
<div class="t" style="left:749.1px;top:565px;width:6.9px;height:2.75px;background-color:#c80000;box-shadow:0 0 0 1.1px #ffafaf"></div>
<div class="t" style="left:758px;top:565px;width:6px;height:2.75px;background-color:#8c0000;box-shadow:0 0 0 1.1px #ffafaf"></div>
<div class="t" style="left:766px;top:562.6px;width:5.5px;height:5.15px;background-color:#1ba808;box-shadow:0 0 0 1.1px #caffb7"></div>
<div class="t gr" style="left:774px;top:344.25px;width:60.4px;height:61.75px;background-color:#1a9010;box-shadow:0 0 0 1.1px #c9ffbf"></div>
<div class="t" style="left:836.6px;top:344.25px;width:48.8px;height:48.65px;background-color:#1a9010;box-shadow:0 0 0 1.1px #c9ffbf"></div>
<div class="t" style="left:887.6px;top:344.25px;width:31.4px;height:48.65px;background-color:#0f6a0a;box-shadow:0 0 0 1.1px #beffb9"></div>
<div class="t gr" style="left:774px;top:408.5px;width:60.2px;height:49.65px;background-color:#430000;box-shadow:0 0 0 1.1px #f2afaf"></div>
<div class="t" style="left:836.6px;top:395.1px;width:38.8px;height:35.9px;background-color:#430000;box-shadow:0 0 0 1.1px #f2afaf"></div>
<div class="t" style="left:877.6px;top:395.1px;width:24.05px;height:35.9px;background-color:#430000;box-shadow:0 0 0 1.1px #f2afaf"></div>
<div class="t" style="left:903.85px;top:395.1px;width:15.15px;height:35.9px;background-color:#430000;box-shadow:0 0 0 1.1px #f2afaf"></div>
<div class="t gr" style="left:774px;top:460.35px;width:59.7px;height:47.4px;background-color:#1ba808;box-shadow:0 0 0 1.1px #caffb7"></div>
<div class="t" style="left:836.4px;top:433.7px;width:18.6px;height:29.35px;background-color:#1ba808;box-shadow:0 0 0 1.1px #caffb7"></div>
<div class="t" style="left:857.2px;top:433.7px;width:19px;height:15.7px;background-color:#1ba808;box-shadow:0 0 0 1.1px #caffb7"></div>
<div class="t" style="left:878.4px;top:433.7px;width:19.9px;height:15.7px;background-color:#1ba808;box-shadow:0 0 0 1.1px #caffb7"></div>
<div class="t" style="left:900.5px;top:433.7px;width:18.5px;height:15.7px;background-color:#5a0000;box-shadow:0 0 0 1.1px #ffafaf"></div>
<div class="t" style="left:835.9px;top:465.25px;width:19.1px;height:21.25px;background-color:#e40000;box-shadow:0 0 0 1.1px #ffafaf"></div>
<div class="t" style="left:835.9px;top:488.7px;width:19.1px;height:19.05px;background-color:#1a9010;box-shadow:0 0 0 1.1px #c9ffbf"></div>
<div class="t" style="left:857.2px;top:451.6px;width:10.2px;height:18.5px;background-color:#1ba808;box-shadow:0 0 0 1.1px #caffb7"></div>
<div class="t" style="left:857.2px;top:472.3px;width:10.2px;height:17.8px;background-color:#0f6a0a;box-shadow:0 0 0 1.1px #beffb9"></div>
<div class="t" style="left:857.2px;top:492.3px;width:10.2px;height:15.45px;background-color:#1ba808;box-shadow:0 0 0 1.1px #caffb7"></div>
<div class="t" style="left:869.6px;top:451.6px;width:12.8px;height:13.3px;background-color:#900000;box-shadow:0 0 0 1.1px #ffafaf"></div>
<div class="t" style="left:869.6px;top:467.1px;width:12.8px;height:12.9px;background-color:#1ba808;box-shadow:0 0 0 1.1px #caffb7"></div>
<div class="t" style="left:869.6px;top:482.4px;width:12.8px;height:12px;background-color:#5a0000;box-shadow:0 0 0 1.1px #ffafaf"></div>
<div class="t" style="left:869.6px;top:496.6px;width:12.8px;height:11.15px;background-color:#c80000;box-shadow:0 0 0 1.1px #ffafaf"></div>
<div class="t" style="left:884.6px;top:451.6px;width:10.05px;height:11.3px;background-color:#0f6a0a;box-shadow:0 0 0 1.1px #beffb9"></div>
<div class="t" style="left:884.6px;top:465.1px;width:10.05px;height:11.3px;background-color:#1ba808;box-shadow:0 0 0 1.1px #caffb7"></div>
<div class="t" style="left:884.6px;top:478.6px;width:10.05px;height:8.6px;background-color:#1ba808;box-shadow:0 0 0 1.1px #caffb7"></div>
<div class="t" style="left:884.6px;top:489.4px;width:10.05px;height:8.5px;background-color:#1ba808;box-shadow:0 0 0 1.1px #caffb7"></div>
<div class="t" style="left:884.6px;top:500.1px;width:10.05px;height:7.65px;background-color:#c80000;box-shadow:0 0 0 1.1px #ffafaf"></div>
<div class="t" style="left:896.85px;top:451.6px;width:10.15px;height:11.4px;background-color:#1ba808;box-shadow:0 0 0 1.1px #caffb7"></div>
<div class="t" style="left:909.2px;top:451.6px;width:8.55px;height:11.4px;background-color:#1ba808;box-shadow:0 0 0 1.1px #caffb7"></div>
<div class="t" style="left:896.85px;top:466px;width:10.15px;height:10.4px;background-color:#5a0000;box-shadow:0 0 0 1.1px #ffafaf"></div>
<div class="t" style="left:909.2px;top:466px;width:9.8px;height:10.4px;background-color:#5a0000;box-shadow:0 0 0 1.1px #ffafaf"></div>
<div class="t" style="left:896.85px;top:478.6px;width:6.15px;height:10.8px;background-color:#c80000;box-shadow:0 0 0 1.1px #ffafaf"></div>
<div class="t" style="left:905px;top:478.6px;width:5px;height:10.8px;background-color:#1ba808;box-shadow:0 0 0 1.1px #caffb7"></div>
<div class="t" style="left:912px;top:478.6px;width:7px;height:10.8px;background-color:#900000;box-shadow:0 0 0 1.1px #ffafaf"></div>
<div class="t" style="left:896.85px;top:491.6px;width:6.55px;height:9.05px;background-color:#1ba808;box-shadow:0 0 0 1.1px #caffb7"></div>
<div class="t" style="left:905.6px;top:491.6px;width:5.4px;height:9.05px;background-color:#0f6a0a;box-shadow:0 0 0 1.1px #beffb9"></div>
<div class="t" style="left:913px;top:491.6px;width:6px;height:9.05px;background-color:#0f6a0a;box-shadow:0 0 0 1.1px #beffb9"></div>
<div class="t" style="left:896.85px;top:502.85px;width:7.55px;height:4.9px;background-color:#c80000;box-shadow:0 0 0 1.1px #ffafaf"></div>
<div class="t" style="left:906.6px;top:502.85px;width:4.4px;height:4.9px;background-color:#1c0000;box-shadow:0 0 0 1.1px #cbafaf"></div>
<div class="t" style="left:913px;top:502.85px;width:5px;height:4.9px;background-color:#1c0000;box-shadow:0 0 0 1.1px #cbafaf"></div>
<div class="t" style="left:921.5px;top:343.25px;width:27.5px;height:38.4px;background-color:#b00000;box-shadow:0 0 0 1.1px #ffafaf"></div>
<div class="t" style="left:921.5px;top:383.85px;width:27.5px;height:29.55px;background-color:#c80000;box-shadow:0 0 0 1.1px #ffafaf"></div>
<div class="t" style="left:921.5px;top:415.6px;width:27.5px;height:24.65px;background-color:#c80000;box-shadow:0 0 0 1.1px #ffafaf"></div>
<div class="t" style="left:951px;top:343.25px;width:20.9px;height:23.25px;background-color:#1ba808;box-shadow:0 0 0 1.1px #caffb7"></div>
<div class="t" style="left:951px;top:369px;width:20.9px;height:24.15px;background-color:#c80000;box-shadow:0 0 0 1.1px #ffafaf"></div>
<div class="t" style="left:951px;top:395.35px;width:20.9px;height:21.55px;background-color:#700000;box-shadow:0 0 0 1.1px #ffafaf"></div>
<div class="t" style="left:951px;top:419.1px;width:20.9px;height:21.15px;background-color:#700000;box-shadow:0 0 0 1.1px #ffafaf"></div>
<div class="t" style="left:974.1px;top:343.25px;width:18.55px;height:20.25px;background-color:#c80000;box-shadow:0 0 0 1.1px #ffafaf"></div>
<div class="t" style="left:994.85px;top:343.25px;width:18.05px;height:20.25px;background-color:#1ba808;box-shadow:0 0 0 1.1px #caffb7"></div>
<div class="t" style="left:1015.1px;top:343.25px;width:17.3px;height:20.25px;background-color:#700000;box-shadow:0 0 0 1.1px #ffafaf"></div>
<div class="t" style="left:1034.6px;top:343.25px;width:15.3px;height:20.25px;background-color:#1ba808;box-shadow:0 0 0 1.1px #caffb7"></div>
<div class="t" style="left:974.1px;top:366px;width:17.05px;height:18.65px;background-color:#b00000;box-shadow:0 0 0 1.1px #ffafaf"></div>
<div class="t" style="left:993.35px;top:366px;width:12.8px;height:18.65px;background-color:#700000;box-shadow:0 0 0 1.1px #ffafaf"></div>
<div class="t" style="left:1008.35px;top:366px;width:12.05px;height:18.65px;background-color:#0f6a0a;box-shadow:0 0 0 1.1px #beffb9"></div>
<div class="t" style="left:1022.6px;top:366px;width:12.3px;height:18.65px;background-color:#1ba808;box-shadow:0 0 0 1.1px #caffb7"></div>
<div class="t" style="left:1037.1px;top:366px;width:12.8px;height:18.65px;background-color:#0f6a0a;box-shadow:0 0 0 1.1px #beffb9"></div>
<div class="t" style="left:974.1px;top:386.85px;width:17.05px;height:16.65px;background-color:#c80000;box-shadow:0 0 0 1.1px #ffafaf"></div>
<div class="t" style="left:993.35px;top:386.85px;width:11.55px;height:16.65px;background-color:#0f6a0a;box-shadow:0 0 0 1.1px #beffb9"></div>
<div class="t" style="left:1007.1px;top:386.85px;width:9.3px;height:15.05px;background-color:#700000;box-shadow:0 0 0 1.1px #ffafaf"></div>
<div class="t" style="left:1018.6px;top:386.85px;width:9.3px;height:15.05px;background-color:#700000;box-shadow:0 0 0 1.1px #ffafaf"></div>
<div class="t" style="left:1030.1px;top:386.85px;width:8.05px;height:14.15px;background-color:#c80000;box-shadow:0 0 0 1.1px #ffafaf"></div>
<div class="t" style="left:1040.35px;top:386.85px;width:9.55px;height:14.15px;background-color:#c80000;box-shadow:0 0 0 1.1px #ffafaf"></div>
<div class="t" style="left:974.1px;top:406px;width:17.05px;height:16px;background-color:#700000;box-shadow:0 0 0 1.1px #ffafaf"></div>
<div class="t" style="left:993.35px;top:406px;width:11.55px;height:17.15px;background-color:#c80000;box-shadow:0 0 0 1.1px #ffafaf"></div>
<div class="t" style="left:1007.1px;top:404.1px;width:9.3px;height:11.3px;background-color:#c80000;box-shadow:0 0 0 1.1px #ffafaf"></div>
<div class="t" style="left:1018.6px;top:404.1px;width:9.05px;height:11.3px;background-color:#700000;box-shadow:0 0 0 1.1px #ffafaf"></div>
<div class="t" style="left:1029.85px;top:403.5px;width:6.15px;height:9.15px;background-color:#0f6a0a;box-shadow:0 0 0 1.1px #beffb9"></div>
<div class="t" style="left:1038px;top:403.5px;width:5px;height:9.15px;background-color:#1ba808;box-shadow:0 0 0 1.1px #caffb7"></div>
<div class="t" style="left:1044.5px;top:403.5px;width:5.4px;height:9.15px;background-color:#0f6a0a;box-shadow:0 0 0 1.1px #beffb9"></div>
<div class="t" style="left:974.1px;top:424.5px;width:17.05px;height:15.75px;background-color:#0f6a0a;box-shadow:0 0 0 1.1px #beffb9"></div>
<div class="t" style="left:993.35px;top:425.35px;width:11.55px;height:14.9px;background-color:#c80000;box-shadow:0 0 0 1.1px #ffafaf"></div>
<div class="t" style="left:1007.1px;top:417.6px;width:9.3px;height:9.3px;background-color:#700000;box-shadow:0 0 0 1.1px #ffafaf"></div>
<div class="t" style="left:1007.1px;top:429.1px;width:9.3px;height:11.15px;background-color:#c80000;box-shadow:0 0 0 1.1px #ffafaf"></div>
<div class="t" style="left:1018.6px;top:417.6px;width:9.05px;height:9.8px;background-color:#1ba808;box-shadow:0 0 0 1.1px #caffb7"></div>
<div class="t" style="left:1018.6px;top:429.6px;width:9.05px;height:10.65px;background-color:#700000;box-shadow:0 0 0 1.1px #ffafaf"></div>
<div class="t" style="left:1029.85px;top:414.85px;width:6.15px;height:7.55px;background-color:#c80000;box-shadow:0 0 0 1.1px #ffafaf"></div>
<div class="t" style="left:1038px;top:414.85px;width:5px;height:7.55px;background-color:#700000;box-shadow:0 0 0 1.1px #ffafaf"></div>
<div class="t" style="left:1044.5px;top:414.85px;width:5.4px;height:7.55px;background-color:#c80000;box-shadow:0 0 0 1.1px #ffafaf"></div>
<div class="t" style="left:1029.85px;top:424.6px;width:6.15px;height:7.8px;background-color:#0f6a0a;box-shadow:0 0 0 1.1px #beffb9"></div>
<div class="t" style="left:1038px;top:424.6px;width:5px;height:7.8px;background-color:#1ba808;box-shadow:0 0 0 1.1px #caffb7"></div>
<div class="t" style="left:1044.5px;top:424.6px;width:5.4px;height:7.8px;background-color:#c80000;box-shadow:0 0 0 1.1px #ffafaf"></div>
<div class="t" style="left:1029.85px;top:434.6px;width:6.15px;height:5.65px;background-color:#700000;box-shadow:0 0 0 1.1px #ffafaf"></div>
<div class="t" style="left:1038px;top:434.6px;width:5px;height:5.65px;background-color:#1ba808;box-shadow:0 0 0 1.1px #caffb7"></div>
<div class="t" style="left:1044.5px;top:434.6px;width:5.4px;height:5.65px;background-color:#c80000;box-shadow:0 0 0 1.1px #ffafaf"></div>
<div class="t" style="left:1052.1px;top:343.25px;width:33.3px;height:38.65px;background-color:#c80000;box-shadow:0 0 0 1.1px #ffafaf"></div>
<div class="t" style="left:1052.1px;top:384.1px;width:33.3px;height:32.05px;background-color:#c80000;box-shadow:0 0 0 1.1px #ffafaf"></div>
<div class="t" style="left:1052.1px;top:418.35px;width:33.3px;height:21.9px;background-color:#5a0000;box-shadow:0 0 0 1.1px #ffafaf"></div>
<div class="t" style="left:1087.6px;top:343.25px;width:19.3px;height:31.9px;background-color:#900000;box-shadow:0 0 0 1.1px #ffafaf"></div>
<div class="t" style="left:1087.6px;top:377.35px;width:19.3px;height:33.05px;background-color:#c80000;box-shadow:0 0 0 1.1px #ffafaf"></div>
<div class="t" style="left:1087.6px;top:412.6px;width:19.3px;height:27.65px;background-color:#c80000;box-shadow:0 0 0 1.1px #ffafaf"></div>
<div class="t" style="left:1109.1px;top:343.25px;width:23.3px;height:20.25px;background-color:#c80000;box-shadow:0 0 0 1.1px #ffafaf"></div>
<div class="t" style="left:1134.6px;top:343.25px;width:22.05px;height:20.25px;background-color:#700000;box-shadow:0 0 0 1.1px #ffafaf"></div>
<div class="t" style="left:1158.85px;top:343.25px;width:20.4px;height:20.25px;background-color:#900000;box-shadow:0 0 0 1.1px #ffafaf"></div>
<div class="t" style="left:1109.1px;top:366px;width:14.3px;height:25.5px;background-color:#900000;box-shadow:0 0 0 1.1px #ffafaf"></div>
<div class="t" style="left:1109.1px;top:394px;width:14.3px;height:21.9px;background-color:#c80000;box-shadow:0 0 0 1.1px #ffafaf"></div>
<div class="t" style="left:1109.1px;top:418.1px;width:14.3px;height:22.15px;background-color:#1ba808;box-shadow:0 0 0 1.1px #caffb7"></div>
<div class="t" style="left:1125.6px;top:366px;width:17.3px;height:15.9px;background-color:#c80000;box-shadow:0 0 0 1.1px #ffafaf"></div>
<div class="t" style="left:1145.1px;top:366px;width:16.3px;height:15.9px;background-color:#c80000;box-shadow:0 0 0 1.1px #ffafaf"></div>
<div class="t" style="left:1163.6px;top:366px;width:15.65px;height:15.9px;background-color:#5a0000;box-shadow:0 0 0 1.1px #ffafaf"></div>
<div class="t" style="left:1125.6px;top:384.1px;width:14.3px;height:16.4px;background-color:#c80000;box-shadow:0 0 0 1.1px #ffafaf"></div>
<div class="t" style="left:1142.1px;top:384.1px;width:12.3px;height:15.8px;background-color:#900000;box-shadow:0 0 0 1.1px #ffafaf"></div>
<div class="t" style="left:1156.6px;top:384.1px;width:10.05px;height:16.05px;background-color:#0f6a0a;box-shadow:0 0 0 1.1px #beffb9"></div>
<div class="t" style="left:1168.85px;top:384.1px;width:10.4px;height:16.05px;background-color:#1ba808;box-shadow:0 0 0 1.1px #caffb7"></div>
<div class="t" style="left:1125.6px;top:403.5px;width:14.3px;height:18.4px;background-color:#900000;box-shadow:0 0 0 1.1px #ffafaf"></div>
<div class="t" style="left:1142.1px;top:402.1px;width:10.3px;height:11.05px;background-color:#1ba808;box-shadow:0 0 0 1.1px #caffb7"></div>
<div class="t" style="left:1154.6px;top:402.35px;width:7.8px;height:9.05px;background-color:#c80000;box-shadow:0 0 0 1.1px #ffafaf"></div>
<div class="t" style="left:1164.6px;top:402.35px;width:6.4px;height:9.05px;background-color:#c80000;box-shadow:0 0 0 1.1px #ffafaf"></div>
<div class="t" style="left:1173px;top:402.35px;width:6.25px;height:9.05px;background-color:#c80000;box-shadow:0 0 0 1.1px #ffafaf"></div>
<div class="t" style="left:1125.6px;top:424.1px;width:14.3px;height:16.15px;background-color:#c80000;box-shadow:0 0 0 1.1px #ffafaf"></div>
<div class="t" style="left:1142.1px;top:415.35px;width:10.3px;height:10.65px;background-color:#c80000;box-shadow:0 0 0 1.1px #ffafaf"></div>
<div class="t" style="left:1142.1px;top:429px;width:10.3px;height:11.25px;background-color:#1ba808;box-shadow:0 0 0 1.1px #caffb7"></div>
<div class="t" style="left:1154.6px;top:413.6px;width:7.8px;height:8.8px;background-color:#c80000;box-shadow:0 0 0 1.1px #ffafaf"></div>
<div class="t" style="left:1164.6px;top:413.6px;width:6.4px;height:7.8px;background-color:#5a0000;box-shadow:0 0 0 1.1px #ffafaf"></div>
<div class="t" style="left:1173px;top:413.6px;width:6.25px;height:7.8px;background-color:#c80000;box-shadow:0 0 0 1.1px #ffafaf"></div>
<div class="t" style="left:1154.6px;top:424.6px;width:7.8px;height:7.8px;background-color:#1ba808;box-shadow:0 0 0 1.1px #caffb7"></div>
<div class="t" style="left:1164.6px;top:423.6px;width:5.4px;height:6.8px;background-color:#1ba808;box-shadow:0 0 0 1.1px #caffb7"></div>
<div class="t" style="left:1172px;top:423.6px;width:7.25px;height:6.8px;background-color:#0f6a0a;box-shadow:0 0 0 1.1px #beffb9"></div>
<div class="t" style="left:1154.6px;top:434.6px;width:7.8px;height:5.65px;background-color:#1ba808;box-shadow:0 0 0 1.1px #caffb7"></div>
<div class="t" style="left:1164.6px;top:432.6px;width:5.4px;height:7.65px;background-color:#1ba808;box-shadow:0 0 0 1.1px #caffb7"></div>
<div class="t" style="left:1172px;top:432.6px;width:7.25px;height:7.65px;background-color:#0f6a0a;box-shadow:0 0 0 1.1px #beffb9"></div>
<div class="t gr" style="left:628.5px;top:597.25px;width:83.4px;height:104.65px;background-color:#075506;box-shadow:0 0 0 1.1px #b6ffb5"></div>
<div class="t gr" style="left:714.1px;top:597.25px;width:56.9px;height:104.65px;background-color:#1ba808;box-shadow:0 0 0 1.1px #caffb7"></div>
<div class="t gr" style="left:628.5px;top:704.1px;width:64.65px;height:75.65px;background-color:#1ba808;box-shadow:0 0 0 1.1px #caffb7"></div>
<div class="t" style="left:695.35px;top:704.1px;width:38.05px;height:44.9px;background-color:#c80000;box-shadow:0 0 0 1.1px #ffafaf"></div>
<div class="t" style="left:695.35px;top:751.5px;width:38.05px;height:28.25px;background-color:#0f6a0a;box-shadow:0 0 0 1.1px #beffb9"></div>
<div class="t" style="left:735.6px;top:704.1px;width:35.4px;height:26.9px;background-color:#c80000;box-shadow:0 0 0 1.1px #ffafaf"></div>
<div class="t" style="left:735.6px;top:734px;width:17.8px;height:28px;background-color:#5a0000;box-shadow:0 0 0 1.1px #ffafaf"></div>
<div class="t" style="left:755.6px;top:734px;width:15.4px;height:27.9px;background-color:#5a0000;box-shadow:0 0 0 1.1px #ffafaf"></div>
<div class="t" style="left:735.6px;top:765px;width:16.8px;height:14.75px;background-color:#c80000;box-shadow:0 0 0 1.1px #ffafaf"></div>
<div class="t" style="left:754.6px;top:764.1px;width:5.4px;height:7.3px;background-color:#1ba808;box-shadow:0 0 0 1.1px #caffb7"></div>
<div class="t" style="left:762px;top:764.1px;width:4px;height:7.3px;background-color:#0f6a0a;box-shadow:0 0 0 1.1px #beffb9"></div>
<div class="t" style="left:768px;top:764.1px;width:3.5px;height:7.3px;background-color:#1ba808;box-shadow:0 0 0 1.1px #caffb7"></div>
<div class="t" style="left:754.6px;top:773.6px;width:5.4px;height:6.15px;background-color:#1ba808;box-shadow:0 0 0 1.1px #caffb7"></div>
<div class="t" style="left:762px;top:773.6px;width:4px;height:6.15px;background-color:#c80000;box-shadow:0 0 0 1.1px #ffafaf"></div>
<div class="t" style="left:768px;top:773.6px;width:3.5px;height:6.15px;background-color:#1ba808;box-shadow:0 0 0 1.1px #caffb7"></div>
<div class="t gr" style="left:774px;top:537.75px;width:57.9px;height:128px;background-color:#900000;box-shadow:0 0 0 1.1px #ffafaf"></div>
<div class="t gr" style="left:834.1px;top:537.75px;width:84.9px;height:56.15px;background-color:#1a9010;box-shadow:0 0 0 1.1px #c9ffbf"></div>
<div class="t gr" style="left:834.1px;top:596.1px;width:41.8px;height:69.65px;background-color:#1ba808;box-shadow:0 0 0 1.1px #caffb7"></div>
<div class="t" style="left:878.1px;top:597px;width:40.9px;height:51.15px;background-color:#5a0000;box-shadow:0 0 0 1.1px #ffafaf"></div>
<div class="t" style="left:878.5px;top:650.35px;width:18.4px;height:15.4px;background-color:#c80000;box-shadow:0 0 0 1.1px #ffafaf"></div>
<div class="t" style="left:899.1px;top:650.35px;width:6.9px;height:15.4px;background-color:#700000;box-shadow:0 0 0 1.1px #ffafaf"></div>
<div class="t" style="left:908px;top:650.35px;width:5px;height:6.65px;background-color:#1ba808;box-shadow:0 0 0 1.1px #caffb7"></div>
<div class="t" style="left:914.5px;top:650.35px;width:4.5px;height:6.65px;background-color:#700000;box-shadow:0 0 0 1.1px #ffafaf"></div>
<div class="t" style="left:908px;top:659px;width:5px;height:6.75px;background-color:#c80000;box-shadow:0 0 0 1.1px #ffafaf"></div>
<div class="t" style="left:914.5px;top:659px;width:4.5px;height:6.75px;background-color:#1ba808;box-shadow:0 0 0 1.1px #caffb7"></div>
<div class="t gr" style="left:774px;top:695.75px;width:62.4px;height:84px;background-color:#1ba808;box-shadow:0 0 0 1.1px #caffb7"></div>
<div class="t" style="left:838.6px;top:695.75px;width:38.3px;height:44.75px;background-color:#1ba808;box-shadow:0 0 0 1.1px #caffb7"></div>
<div class="t" style="left:838.6px;top:743px;width:38.3px;height:36.75px;background-color:#1a9010;box-shadow:0 0 0 1.1px #c9ffbf"></div>
<div class="t" style="left:879.1px;top:695.75px;width:19.8px;height:30.15px;background-color:#c80000;box-shadow:0 0 0 1.1px #ffafaf"></div>
<div class="t" style="left:901.1px;top:695.75px;width:17.9px;height:30.15px;background-color:#0f6a0a;box-shadow:0 0 0 1.1px #beffb9"></div>
<div class="t" style="left:879.1px;top:728.1px;width:12.55px;height:16.9px;background-color:#c80000;box-shadow:0 0 0 1.1px #ffafaf"></div>
<div class="t" style="left:893.85px;top:728.1px;width:10.8px;height:16.9px;background-color:#0f6a0a;box-shadow:0 0 0 1.1px #beffb9"></div>
<div class="t" style="left:906.85px;top:728.1px;width:12.15px;height:16.9px;background-color:#c80000;box-shadow:0 0 0 1.1px #ffafaf"></div>
<div class="t" style="left:879.1px;top:748px;width:10.55px;height:12.9px;background-color:#c80000;box-shadow:0 0 0 1.1px #ffafaf"></div>
<div class="t" style="left:891.85px;top:748px;width:9.05px;height:12.9px;background-color:#1ba808;box-shadow:0 0 0 1.1px #caffb7"></div>
<div class="t" style="left:903.1px;top:748px;width:6.9px;height:12.9px;background-color:#c80000;box-shadow:0 0 0 1.1px #ffafaf"></div>
<div class="t" style="left:912px;top:748px;width:7px;height:12.9px;background-color:#1ba808;box-shadow:0 0 0 1.1px #caffb7"></div>
<div class="t" style="left:879.1px;top:763.1px;width:10.55px;height:7.8px;background-color:#c80000;box-shadow:0 0 0 1.1px #ffafaf"></div>
<div class="t" style="left:891.85px;top:763.1px;width:6.55px;height:7.8px;background-color:#c80000;box-shadow:0 0 0 1.1px #ffafaf"></div>
<div class="t" style="left:900.6px;top:763.1px;width:5.8px;height:7.8px;background-color:#1ba808;box-shadow:0 0 0 1.1px #caffb7"></div>
<div class="t" style="left:908.6px;top:763.1px;width:10.4px;height:7.8px;background-color:#1ba808;box-shadow:0 0 0 1.1px #caffb7"></div>
<div class="t" style="left:879.1px;top:773.1px;width:19.3px;height:6.65px;background-color:#c80000;box-shadow:0 0 0 1.1px #ffafaf"></div>
<div class="t" style="left:900.6px;top:773.1px;width:7.4px;height:6.65px;background-color:#c80000;box-shadow:0 0 0 1.1px #ffafaf"></div>
<div class="t" style="left:910px;top:773.1px;width:9px;height:6.65px;background-color:#1ba808;box-shadow:0 0 0 1.1px #caffb7"></div>
<div class="t gr" style="left:922px;top:468.25px;width:123.15px;height:74px;background-color:#1ba808;box-shadow:0 0 0 1.1px #caffb7"></div>
<div class="t" style="left:1047.35px;top:468.25px;width:4.15px;height:58.15px;background-color:#900000;box-shadow:0 0 0 1.1px #ffafaf"></div>
<div class="t" style="left:1047.35px;top:528.6px;width:4.15px;height:13.65px;background-color:#c80000;box-shadow:0 0 0 1.1px #ffafaf"></div>
<div class="t" style="left:1054px;top:468.25px;width:31.9px;height:56.9px;background-color:#1ba808;box-shadow:0 0 0 1.1px #caffb7"></div>
<div class="t" style="left:1054px;top:527.35px;width:31.9px;height:14.9px;background-color:#1ba808;box-shadow:0 0 0 1.1px #caffb7"></div>
<div class="t" style="left:1088.1px;top:468.25px;width:15.05px;height:30.65px;background-color:#c80000;box-shadow:0 0 0 1.1px #ffafaf"></div>
<div class="t" style="left:1105.35px;top:468.25px;width:13.15px;height:30.65px;background-color:#c80000;box-shadow:0 0 0 1.1px #ffafaf"></div>
<div class="t" style="left:1088.1px;top:501.1px;width:14.55px;height:15.8px;background-color:#900000;box-shadow:0 0 0 1.1px #ffafaf"></div>
<div class="t" style="left:1104.85px;top:501.1px;width:13.65px;height:15.8px;background-color:#1a9010;box-shadow:0 0 0 1.1px #c9ffbf"></div>
<div class="t" style="left:1088.1px;top:519.1px;width:12.3px;height:12.8px;background-color:#5a0000;box-shadow:0 0 0 1.1px #ffafaf"></div>
<div class="t" style="left:1102.6px;top:519.1px;width:7.55px;height:10.8px;background-color:#c80000;box-shadow:0 0 0 1.1px #ffafaf"></div>
<div class="t" style="left:1112.35px;top:519.1px;width:6.15px;height:10.8px;background-color:#700000;box-shadow:0 0 0 1.1px #ffafaf"></div>
<div class="t" style="left:1088.1px;top:534.1px;width:12.3px;height:8.15px;background-color:#1ba808;box-shadow:0 0 0 1.1px #caffb7"></div>
<div class="t" style="left:1102.6px;top:532.1px;width:5.4px;height:10.15px;background-color:#c80000;box-shadow:0 0 0 1.1px #ffafaf"></div>
<div class="t" style="left:1110px;top:532.1px;width:8.5px;height:10.15px;background-color:#c80000;box-shadow:0 0 0 1.1px #ffafaf"></div>
<div class="t" style="left:1121px;top:468.25px;width:25.15px;height:26.75px;background-color:#1ba808;box-shadow:0 0 0 1.1px #caffb7"></div>
<div class="t" style="left:1148.35px;top:468.25px;width:16.55px;height:26.75px;background-color:#c80000;box-shadow:0 0 0 1.1px #ffafaf"></div>
<div class="t" style="left:1167.1px;top:468.25px;width:12.15px;height:26.75px;background-color:#c80000;box-shadow:0 0 0 1.1px #ffafaf"></div>
<div class="t" style="left:1121px;top:498px;width:14.4px;height:23px;background-color:#b00000;box-shadow:0 0 0 1.1px #ffafaf"></div>
<div class="t" style="left:1137.6px;top:498px;width:10.8px;height:22.9px;background-color:#5a0000;box-shadow:0 0 0 1.1px #ffafaf"></div>
<div class="t" style="left:1150.6px;top:498px;width:14.3px;height:12.9px;background-color:#1ba808;box-shadow:0 0 0 1.1px #caffb7"></div>
<div class="t" style="left:1167.1px;top:498px;width:12.15px;height:12.9px;background-color:#1ba808;box-shadow:0 0 0 1.1px #caffb7"></div>
<div class="t" style="left:1121px;top:523.5px;width:14.4px;height:18.75px;background-color:#b00000;box-shadow:0 0 0 1.1px #ffafaf"></div>
<div class="t" style="left:1137.6px;top:523.1px;width:10.8px;height:19.15px;background-color:#0f6a0a;box-shadow:0 0 0 1.1px #beffb9"></div>
<div class="t" style="left:1150.6px;top:513.1px;width:7.55px;height:12.8px;background-color:#c80000;box-shadow:0 0 0 1.1px #ffafaf"></div>
<div class="t" style="left:1160.35px;top:513.1px;width:8.05px;height:10.8px;background-color:#c80000;box-shadow:0 0 0 1.1px #ffafaf"></div>
<div class="t" style="left:1170.6px;top:513.1px;width:8.65px;height:10.8px;background-color:#1ba808;box-shadow:0 0 0 1.1px #caffb7"></div>
<div class="t" style="left:1150.6px;top:528.1px;width:7.55px;height:14.15px;background-color:#1ba808;box-shadow:0 0 0 1.1px #caffb7"></div>
<div class="t" style="left:1160.35px;top:526.1px;width:8.05px;height:9.3px;background-color:#1ba808;box-shadow:0 0 0 1.1px #caffb7"></div>
<div class="t" style="left:1170.6px;top:526.1px;width:4.4px;height:9.3px;background-color:#1ba808;box-shadow:0 0 0 1.1px #caffb7"></div>
<div class="t" style="left:1176.5px;top:526.1px;width:2.75px;height:9.3px;background-color:#1c0000;box-shadow:0 0 0 1.1px #cbafaf"></div>
<div class="t" style="left:1160.35px;top:537.6px;width:8.05px;height:4.65px;background-color:#1ba808;box-shadow:0 0 0 1.1px #caffb7"></div>
<div class="t" style="left:1170.6px;top:537.6px;width:8.65px;height:4.65px;background-color:#700000;box-shadow:0 0 0 1.1px #ffafaf"></div>
<div class="t" style="left:922px;top:570.25px;width:22.9px;height:57px;background-color:#1ba808;box-shadow:0 0 0 1.1px #caffb7"></div>
<div class="t" style="left:947.1px;top:570.25px;width:20.55px;height:19.4px;background-color:#c80000;box-shadow:0 0 0 1.1px #ffafaf"></div>
<div class="t" style="left:969.85px;top:570.25px;width:19.05px;height:19.4px;background-color:#1ba808;box-shadow:0 0 0 1.1px #caffb7"></div>
<div class="t" style="left:947.1px;top:591.85px;width:12.55px;height:20.05px;background-color:#900000;box-shadow:0 0 0 1.1px #ffafaf"></div>
<div class="t" style="left:961.85px;top:591.85px;width:11.3px;height:11.3px;background-color:#1ba808;box-shadow:0 0 0 1.1px #caffb7"></div>
<div class="t" style="left:975.35px;top:591.85px;width:13.55px;height:11.3px;background-color:#1ba808;box-shadow:0 0 0 1.1px #caffb7"></div>
<div class="t" style="left:947.1px;top:614.1px;width:12.55px;height:13.15px;background-color:#5a0000;box-shadow:0 0 0 1.1px #ffafaf"></div>
<div class="t" style="left:961.85px;top:605.35px;width:10.8px;height:10.55px;background-color:#1ba808;box-shadow:0 0 0 1.1px #caffb7"></div>
<div class="t" style="left:974.85px;top:605.35px;width:5.15px;height:8.05px;background-color:#c80000;box-shadow:0 0 0 1.1px #ffafaf"></div>
<div class="t" style="left:982px;top:605.35px;width:6.9px;height:8.05px;background-color:#1c0000;box-shadow:0 0 0 1.1px #cbafaf"></div>
<div class="t" style="left:961.85px;top:618.1px;width:10.8px;height:9.15px;background-color:#c80000;box-shadow:0 0 0 1.1px #ffafaf"></div>
<div class="t" style="left:974.85px;top:615.6px;width:5.15px;height:5.4px;background-color:#1ba808;box-shadow:0 0 0 1.1px #caffb7"></div>
<div class="t" style="left:982px;top:615.6px;width:5.75px;height:5.4px;background-color:#0f6a0a;box-shadow:0 0 0 1.1px #beffb9"></div>
<div class="t" style="left:974.85px;top:623px;width:5.15px;height:4.25px;background-color:#1ba808;box-shadow:0 0 0 1.1px #caffb7"></div>
<div class="t" style="left:982px;top:623px;width:5.75px;height:4.25px;background-color:#1ba808;box-shadow:0 0 0 1.1px #caffb7"></div>
<div class="t" style="left:991.1px;top:570.25px;width:36.3px;height:44.5px;background-color:#c80000;box-shadow:0 0 0 1.1px #ffafaf"></div>
<div class="t" style="left:1029.6px;top:570.25px;width:14.8px;height:29.4px;background-color:#c80000;box-shadow:0 0 0 1.1px #ffafaf"></div>
<div class="t" style="left:1046.6px;top:570.25px;width:12.3px;height:29.4px;background-color:#1a9010;box-shadow:0 0 0 1.1px #c9ffbf"></div>
<div class="t" style="left:1029.6px;top:601.85px;width:13.8px;height:12.9px;background-color:#c80000;box-shadow:0 0 0 1.1px #ffafaf"></div>
<div class="t" style="left:1045.6px;top:601.85px;width:5.8px;height:12.9px;background-color:#c80000;box-shadow:0 0 0 1.1px #ffafaf"></div>
<div class="t" style="left:1053.6px;top:601.85px;width:4.4px;height:4.55px;background-color:#1c0000;box-shadow:0 0 0 1.1px #cbafaf"></div>
<div class="t" style="left:1053.6px;top:608.6px;width:4.4px;height:3.65px;background-color:#1c0000;box-shadow:0 0 0 1.1px #cbafaf"></div>
<div class="t" style="left:1061.1px;top:570.25px;width:45.55px;height:44.5px;background-color:#1ba808;box-shadow:0 0 0 1.1px #caffb7"></div>
<div class="t" style="left:1108.85px;top:570.25px;width:10.15px;height:44.5px;background-color:#c80000;box-shadow:0 0 0 1.1px #ffafaf"></div>
<div class="t" style="left:1121.5px;top:570.25px;width:19.4px;height:44.5px;background-color:#5a0000;box-shadow:0 0 0 1.1px #ffafaf"></div>
<div class="t" style="left:1143.1px;top:570.25px;width:19.55px;height:19.9px;background-color:#b00000;box-shadow:0 0 0 1.1px #ffafaf"></div>
<div class="t" style="left:1164.85px;top:570.25px;width:14.4px;height:19.9px;background-color:#900000;box-shadow:0 0 0 1.1px #ffafaf"></div>
<div class="t" style="left:1143.1px;top:592.35px;width:12.3px;height:10.3px;background-color:#c80000;box-shadow:0 0 0 1.1px #ffafaf"></div>
<div class="t" style="left:1157.6px;top:592.35px;width:7.05px;height:10.3px;background-color:#c80000;box-shadow:0 0 0 1.1px #ffafaf"></div>
<div class="t" style="left:1166.85px;top:592.35px;width:5.15px;height:10.3px;background-color:#1ba808;box-shadow:0 0 0 1.1px #caffb7"></div>
<div class="t" style="left:1174px;top:592.35px;width:5.25px;height:10.3px;background-color:#5a0000;box-shadow:0 0 0 1.1px #ffafaf"></div>
<div class="t" style="left:1143.1px;top:604.85px;width:12.3px;height:9.9px;background-color:#1ba808;box-shadow:0 0 0 1.1px #caffb7"></div>
<div class="t" style="left:1157.6px;top:604.85px;width:7.05px;height:9.9px;background-color:#0f6a0a;box-shadow:0 0 0 1.1px #beffb9"></div>
<div class="t" style="left:1166.85px;top:604.85px;width:5.15px;height:9.9px;background-color:#1ba808;box-shadow:0 0 0 1.1px #caffb7"></div>
<div class="t" style="left:1174px;top:604.85px;width:5.25px;height:9.9px;background-color:#0f6a0a;box-shadow:0 0 0 1.1px #beffb9"></div>
<div class="t gr" style="left:922px;top:655.75px;width:64.5px;height:50px;background-color:#9a0000;box-shadow:0 0 0 1.1px #ffafaf"></div>
<div class="t" style="left:922px;top:734.75px;width:31.15px;height:45.5px;background-color:#0f6a0a;box-shadow:0 0 0 1.1px #beffb9"></div>
<div class="t" style="left:955.35px;top:734.75px;width:33.15px;height:20.75px;background-color:#5a0000;box-shadow:0 0 0 1.1px #ffafaf"></div>
<div class="t" style="left:955.35px;top:758px;width:20.8px;height:22.25px;background-color:#c80000;box-shadow:0 0 0 1.1px #ffafaf"></div>
<div class="t" style="left:978.35px;top:758px;width:10.15px;height:14.65px;background-color:#1ba808;box-shadow:0 0 0 1.1px #caffb7"></div>
<div class="t" style="left:978.35px;top:774.85px;width:4.65px;height:5.4px;background-color:#1ba808;box-shadow:0 0 0 1.1px #caffb7"></div>
<div class="t" style="left:984.5px;top:774.85px;width:4px;height:5.4px;background-color:#c80000;box-shadow:0 0 0 1.1px #ffafaf"></div>
<div class="t" style="left:991px;top:642.75px;width:22.4px;height:25.4px;background-color:#c80000;box-shadow:0 0 0 1.1px #ffafaf"></div>
<div class="t" style="left:1015.6px;top:642.75px;width:19.3px;height:25.4px;background-color:#0f6a0a;box-shadow:0 0 0 1.1px #beffb9"></div>
<div class="t" style="left:991px;top:670.35px;width:14.15px;height:27.4px;background-color:#c80000;box-shadow:0 0 0 1.1px #ffafaf"></div>
<div class="t" style="left:1007.35px;top:670.35px;width:15.55px;height:15.55px;background-color:#c80000;box-shadow:0 0 0 1.1px #ffafaf"></div>
<div class="t" style="left:1025.1px;top:670.35px;width:9.8px;height:9.8px;background-color:#0f6a0a;box-shadow:0 0 0 1.1px #beffb9"></div>
<div class="t" style="left:1007.35px;top:688.1px;width:15.55px;height:9.65px;background-color:#900000;box-shadow:0 0 0 1.1px #ffafaf"></div>
<div class="t" style="left:1025.1px;top:682.35px;width:8.65px;height:9.05px;background-color:#c80000;box-shadow:0 0 0 1.1px #ffafaf"></div>
<div class="t" style="left:1025.1px;top:693.6px;width:3.9px;height:4.15px;background-color:#1ba808;box-shadow:0 0 0 1.1px #caffb7"></div>
<div class="t" style="left:1030.5px;top:693.6px;width:3.25px;height:4.15px;background-color:#1c0000;box-shadow:0 0 0 1.1px #cbafaf"></div>
<div class="t" style="left:991px;top:726.25px;width:26.65px;height:21.9px;background-color:#1ba808;box-shadow:0 0 0 1.1px #caffb7"></div>
<div class="t" style="left:1019.85px;top:726.25px;width:15.05px;height:21.9px;background-color:#c80000;box-shadow:0 0 0 1.1px #ffafaf"></div>
<div class="t" style="left:991px;top:750.35px;width:13.4px;height:16.05px;background-color:#1ba808;box-shadow:0 0 0 1.1px #caffb7"></div>
<div class="t" style="left:1006.6px;top:750.35px;width:10.3px;height:16.05px;background-color:#900000;box-shadow:0 0 0 1.1px #ffafaf"></div>
<div class="t" style="left:1019.1px;top:750.35px;width:6.55px;height:15.65px;background-color:#900000;box-shadow:0 0 0 1.1px #ffafaf"></div>
<div class="t" style="left:1027.85px;top:750.35px;width:7.05px;height:15.65px;background-color:#1ba808;box-shadow:0 0 0 1.1px #caffb7"></div>
<div class="t" style="left:991px;top:768.6px;width:13.4px;height:11.65px;background-color:#0f6a0a;box-shadow:0 0 0 1.1px #beffb9"></div>
<div class="t" style="left:1006.6px;top:768.6px;width:10.3px;height:11.65px;background-color:#c80000;box-shadow:0 0 0 1.1px #ffafaf"></div>
<div class="t" style="left:1019.1px;top:768.5px;width:6.9px;height:11.75px;background-color:#c80000;box-shadow:0 0 0 1.1px #ffafaf"></div>
<div class="t" style="left:1028px;top:768.5px;width:6.9px;height:11.75px;background-color:#5a0000;box-shadow:0 0 0 1.1px #ffafaf"></div>
<div class="t" style="left:1037.1px;top:642.75px;width:22.3px;height:20.4px;background-color:#5a0000;box-shadow:0 0 0 1.1px #ffafaf"></div>
<div class="t" style="left:1061.6px;top:642.75px;width:12.8px;height:14.15px;background-color:#1a9010;box-shadow:0 0 0 1.1px #c9ffbf"></div>
<div class="t" style="left:1076.6px;top:642.75px;width:12.4px;height:14.15px;background-color:#1ba808;box-shadow:0 0 0 1.1px #caffb7"></div>
<div class="t" style="left:1037.1px;top:665.35px;width:22.3px;height:11.4px;background-color:#900000;box-shadow:0 0 0 1.1px #ffafaf"></div>
<div class="t" style="left:1061.6px;top:659.1px;width:12.8px;height:8.8px;background-color:#0f6a0a;box-shadow:0 0 0 1.1px #beffb9"></div>
<div class="t" style="left:1061.6px;top:670.1px;width:12.3px;height:6.65px;background-color:#c80000;box-shadow:0 0 0 1.1px #ffafaf"></div>
<div class="t" style="left:1076.6px;top:659.1px;width:7.4px;height:8.8px;background-color:#0f6a0a;box-shadow:0 0 0 1.1px #beffb9"></div>
<div class="t" style="left:1076.1px;top:670.1px;width:7.9px;height:6.65px;background-color:#1ba808;box-shadow:0 0 0 1.1px #caffb7"></div>
<div class="t" style="left:1086px;top:659.1px;width:3.4px;height:9.3px;background-color:#1c0000;box-shadow:0 0 0 1.1px #cbafaf"></div>
<div class="t" style="left:1086px;top:670.6px;width:2.25px;height:6.15px;background-color:#1ba808;box-shadow:0 0 0 1.1px #caffb7"></div>
<div class="t" style="left:1037.1px;top:705.25px;width:10.8px;height:24px;background-color:#1ba808;box-shadow:0 0 0 1.1px #caffb7"></div>
<div class="t" style="left:1050.1px;top:705.25px;width:14.8px;height:11.65px;background-color:#0f6a0a;box-shadow:0 0 0 1.1px #beffb9"></div>
<div class="t" style="left:1050.1px;top:719.1px;width:14.8px;height:10.15px;background-color:#c80000;box-shadow:0 0 0 1.1px #ffafaf"></div>
<div class="t" style="left:1067.1px;top:705.25px;width:9.3px;height:11.65px;background-color:#c80000;box-shadow:0 0 0 1.1px #ffafaf"></div>
<div class="t" style="left:1067.1px;top:719.1px;width:9.3px;height:10.15px;background-color:#5a0000;box-shadow:0 0 0 1.1px #ffafaf"></div>
<div class="t" style="left:1078.6px;top:705.25px;width:4.4px;height:6.15px;background-color:#1c0000;box-shadow:0 0 0 1.1px #cbafaf"></div>
<div class="t" style="left:1085px;top:705.25px;width:3.25px;height:6.15px;background-color:#1ba808;box-shadow:0 0 0 1.1px #caffb7"></div>
<div class="t" style="left:1078.6px;top:713.6px;width:4.4px;height:6.8px;background-color:#1ba808;box-shadow:0 0 0 1.1px #caffb7"></div>
<div class="t" style="left:1085px;top:713.6px;width:3.25px;height:6.8px;background-color:#0f6a0a;box-shadow:0 0 0 1.1px #beffb9"></div>
<div class="t" style="left:1078.6px;top:722.6px;width:4.4px;height:6.65px;background-color:#1ba808;box-shadow:0 0 0 1.1px #caffb7"></div>
<div class="t" style="left:1085px;top:722.6px;width:3.25px;height:6.65px;background-color:#1ba808;box-shadow:0 0 0 1.1px #caffb7"></div>
<div class="t" style="left:1037.1px;top:757.75px;width:26.05px;height:22.5px;background-color:#1a9010;box-shadow:0 0 0 1.1px #c9ffbf"></div>
<div class="t" style="left:1065.35px;top:757.75px;width:13.05px;height:22.5px;background-color:#900000;box-shadow:0 0 0 1.1px #ffafaf"></div>
<div class="t" style="left:1080.6px;top:757.75px;width:8.8px;height:22.5px;background-color:#c80000;box-shadow:0 0 0 1.1px #ffafaf"></div>
<div class="t" style="left:1091.6px;top:642.75px;width:11.8px;height:18px;background-color:#5a0000;box-shadow:0 0 0 1.1px #ffafaf"></div>
<div class="t" style="left:1105.6px;top:642.75px;width:11.55px;height:18px;background-color:#c80000;box-shadow:0 0 0 1.1px #ffafaf"></div>
<div class="t" style="left:1119.35px;top:642.75px;width:6.8px;height:18px;background-color:#c80000;box-shadow:0 0 0 1.1px #ffafaf"></div>
<div class="t" style="left:1128.35px;top:642.75px;width:6.65px;height:18px;background-color:#1ba808;box-shadow:0 0 0 1.1px #caffb7"></div>
<div class="t" style="left:1092.75px;top:689.75px;width:27.4px;height:10px;background-color:#1a9010;box-shadow:0 0 0 1.1px #c9ffbf"></div>
<div class="t" style="left:1122.35px;top:689.75px;width:12.65px;height:10px;background-color:#1ba808;box-shadow:0 0 0 1.1px #caffb7"></div>
<div class="t" style="left:1092.75px;top:729.25px;width:16.25px;height:13px;background-color:#e40000;box-shadow:0 0 0 1.1px #ffafaf"></div>
<div class="t" style="left:1111.5px;top:729.25px;width:11.65px;height:13px;background-color:#1ba808;box-shadow:0 0 0 1.1px #caffb7"></div>
<div class="t" style="left:1125.35px;top:729.25px;width:2.65px;height:5.75px;background-color:#1ba808;box-shadow:0 0 0 1.1px #caffb7"></div>
<div class="t" style="left:1129.5px;top:729.25px;width:2.65px;height:5.75px;background-color:#0f6a0a;box-shadow:0 0 0 1.1px #beffb9"></div>
<div class="t" style="left:1125.35px;top:737px;width:2.65px;height:5.25px;background-color:#1ba808;box-shadow:0 0 0 1.1px #caffb7"></div>
<div class="t" style="left:1129.5px;top:737px;width:1.75px;height:5.25px;background-color:#0f6a0a;box-shadow:0 0 0 1.1px #beffb9"></div>
<div class="t" style="left:1091.6px;top:770.75px;width:35.15px;height:9.5px;background-color:#c80000;box-shadow:0 0 0 1.1px #ffafaf"></div>
<div class="t" style="left:1138px;top:642.75px;width:8.15px;height:18px;background-color:#1ba808;box-shadow:0 0 0 1.1px #caffb7"></div>
<div class="t" style="left:1148.35px;top:642.75px;width:14.3px;height:8.15px;background-color:#c80000;box-shadow:0 0 0 1.1px #ffafaf"></div>
<div class="t" style="left:1148.35px;top:653.1px;width:14.3px;height:7.65px;background-color:#0f6a0a;box-shadow:0 0 0 1.1px #beffb9"></div>
<div class="t" style="left:1164.85px;top:642.75px;width:13.9px;height:8.15px;background-color:#c80000;box-shadow:0 0 0 1.1px #ffafaf"></div>
<div class="t" style="left:1164.85px;top:653.1px;width:13.9px;height:7.65px;background-color:#900000;box-shadow:0 0 0 1.1px #ffafaf"></div>
<div class="t" style="left:1138px;top:689.75px;width:11.65px;height:10px;background-color:#c80000;box-shadow:0 0 0 1.1px #ffafaf"></div>
<div class="t" style="left:1151.85px;top:689.75px;width:10.55px;height:10px;background-color:#900000;box-shadow:0 0 0 1.1px #ffafaf"></div>
<div class="t" style="left:1164.6px;top:689.75px;width:5.4px;height:4.25px;background-color:#c80000;box-shadow:0 0 0 1.1px #ffafaf"></div>
<div class="t" style="left:1172px;top:689.75px;width:3px;height:4.25px;background-color:#1c0000;box-shadow:0 0 0 1.1px #cbafaf"></div>
<div class="t" style="left:1177px;top:689.75px;width:2.25px;height:4.25px;background-color:#c80000;box-shadow:0 0 0 1.1px #ffafaf"></div>
<div class="t" style="left:1164.6px;top:696px;width:5.4px;height:3.75px;background-color:#1ba808;box-shadow:0 0 0 1.1px #caffb7"></div>
<div class="t" style="left:1172px;top:696px;width:3px;height:3.75px;background-color:#c80000;box-shadow:0 0 0 1.1px #ffafaf"></div>
<div class="t" style="left:1177px;top:696px;width:2.25px;height:3.75px;background-color:#5a0000;box-shadow:0 0 0 1.1px #ffafaf"></div>
<div class="t" style="left:1134.35px;top:729.75px;width:24.9px;height:2px;background-color:#0f6a0a;box-shadow:0 0 0 1.1px #beffb9"></div>
<div class="t" style="left:1168.75px;top:729.75px;width:3.25px;height:2px;background-color:#0f6a0a;box-shadow:0 0 0 1.1px #beffb9"></div>
<div class="t" style="left:1174px;top:729.75px;width:4.75px;height:2px;background-color:#1a9010;box-shadow:0 0 0 1.1px #c9ffbf"></div>
</div>
<div class="layer" id="heads">
<div class="h" style="left:20px;top:12px;width:348.5px;height:23px;line-height:24px"><span>فراورده های نفتی، کک و سوخت هسته ای [+]</span></div>
<div class="h" style="left:369.5px;top:12px;width:257px;height:23px;line-height:24px"><span>محصولات شیمیایی [+]</span></div>
<div class="h" style="left:627.5px;top:12px;width:204px;height:23px;line-height:24px"><span>استخراج کانه های فلزی [+]</span></div>
<div class="h" style="left:832.5px;top:12px;width:180.5px;height:23px;line-height:24px"><span>بانکها و موسسات اعتباری [+]</span></div>
<div class="h" style="left:1014px;top:12px;width:167px;height:23px;line-height:24px"><span>شرکتهای چند رشته ای صنعتی [+]</span></div>
<div class="h" style="left:20px;top:429.8px;width:348.5px;height:24px;line-height:25px"><span>فلزات اساسی [+]</span></div>
<div class="h" style="left:369.5px;top:449.7px;width:257px;height:23px;line-height:24px"><span>خودرو و ساخت قطعات [+]</span></div>
<div class="h" style="left:627.5px;top:321.2px;width:145.5px;height:21px;line-height:22px"><span>سیمان، آهک و گچ [+]</span></div>
<div class="h" style="left:774px;top:321.2px;width:146.5px;height:21px;line-height:22px"><span>سرمایه گذاریها [+]</span></div>
<div class="h" style="left:921.5px;top:321.2px;width:129.5px;height:20.5px;line-height:21.5px"><span>مواد و محصولات دارویی [+]</span></div>
<div class="h" style="left:1052px;top:321.2px;width:129px;height:20.5px;line-height:21.5px"><span>...محصولات غذایی و آشامید [+]</span></div>
<div class="h" style="left:627.5px;top:572.5px;width:145.5px;height:21.5px;line-height:22.5px"><span>عرضه برق، گاز، بخاروآب گرم [+]</span></div>
<div class="h" style="left:774px;top:514.5px;width:146.5px;height:20px;line-height:21px"><span>...فعالیتهای کمکی به نهادهای مالی [+]</span></div>
<div class="h" style="left:774px;top:671px;width:146.5px;height:21.5px;line-height:22.5px"><span>انبوه سازی، املاک و مستغلات [+]</span></div>
<div class="h" style="left:921.5px;top:447.2px;width:130.5px;height:19.5px;line-height:20.5px"><span>خدمات فنی و مهندسی [+]</span></div>
<div class="h" style="left:1053px;top:447.2px;width:66.7px;height:19.5px;line-height:20.5px"><span>... رایانه و [+]</span></div>
<div class="h" style="left:1120.7px;top:447.2px;width:60.3px;height:19.5px;line-height:20.5px"><span>...زراعت [+]</span></div>
<div class="h" style="left:921.5px;top:548px;width:69px;height:20px;line-height:21px"><span>...بیمه وصند [+]</span></div>
<div class="h" style="left:991.5px;top:548px;width:69px;height:20px;line-height:21px"><span>...ماشین آلا [+]</span></div>
<div class="h" style="left:1061.5px;top:548px;width:59.5px;height:20px;line-height:21px"><span>...تولید مح [+]</span></div>
<div class="h" style="left:1122px;top:548px;width:59px;height:20px;line-height:21px"><span>...ماشین آ [+]</span></div>
<div class="h" style="left:921.5px;top:631px;width:69px;height:21.5px;line-height:22.5px"><span>مخابرات [+]</span></div>
<div class="h" style="left:921.5px;top:710px;width:69px;height:21px;line-height:22px"><span>...ساخت مح [+]</span></div>
<div class="h" style="left:991.5px;top:622px;width:45.5px;height:18.5px;line-height:19.5px"><span>...محم [+]</span></div>
<div class="h" style="left:991.5px;top:702.5px;width:45.5px;height:20px;line-height:21px"><span>...سا [+]</span></div>
<div class="h" style="left:1038px;top:622px;width:53px;height:18.5px;line-height:19.5px"><span>سلامتی.. [+]</span></div>
<div class="h" style="left:1038px;top:686px;width:53px;height:15px;line-height:16px"><span>... قد و [+]</span></div>
<div class="h" style="left:1038px;top:736px;width:53px;height:18px;line-height:19px"><span>... هتل و [+]</span></div>
<div class="h" style="left:1092px;top:622px;width:45.5px;height:18.5px;line-height:19.5px"><span>...ساطی [+]</span></div>
<div class="h" style="left:1092px;top:667.2px;width:45.5px;height:18px;line-height:19px"><span>...سخر [+]</span></div>
<div class="h" style="left:1092px;top:706px;width:41.5px;height:19px;line-height:20px"><span>...سفن [+]</span></div>
<div class="h" style="left:1092px;top:748.2px;width:41.5px;height:19.5px;line-height:20.5px"><span>...سا [+]</span></div>
<div class="h" style="left:1138.5px;top:622px;width:42.5px;height:18.5px;line-height:19.5px"><span>...سکا [+]</span></div>
<div class="h" style="left:1138.5px;top:667.2px;width:42.5px;height:18px;line-height:19px"><span>...سما [+]</span></div>
<div class="h" style="left:1134.5px;top:706px;width:31.5px;height:19px;line-height:20px"><span>... [+]</span></div>
</div>
<div class="layer" id="labels">
<div class="l" style="left:20px;top:36px;width:185px;height:390px;font-size:29.5px;line-height:33.2px;-webkit-text-stroke:0.5px #fff;padding-top:3px"><span style="transform:translateX(-11.5px) scaleX(0.8184)"><b>شپنا</b><i>1.74%</i></span></div>
<div class="l" style="left:208px;top:36px;width:158px;height:192px;font-size:29.5px;line-height:33.7px;-webkit-text-stroke:0.5px #fff;padding-top:4.6px"><span style="transform:translateX(-12.1px) scaleX(0.8184)"><b>شبندر</b><i>-2.96%</i></span></div>
<div class="l" style="left:208px;top:231px;width:158px;height:96px;font-size:22.42px;line-height:24.77px;-webkit-text-stroke:0.5px #fff;padding-top:7.8px"><span style="transform:translateX(-12.2px) scaleX(0.8184)"><b>شتران</b><i>-2.29%</i></span></div>
<div class="l" style="left:208px;top:330px;width:65px;height:96px;font-size:8.78px;line-height:11.8px;font-weight:bold;padding-bottom:0.2px"><span style="transform:translateX(-10.8px) scaleX(0.8471)"><b>شبریز</b><i>-0.99%</i></span></div>
<div class="l" style="left:277px;top:330px;width:35px;height:96px;font-size:5.7px;line-height:6.1px;font-weight:bold;padding-top:5px"><span style="transform:translateX(-13px) scaleX(0.8471)"><b>شاوان</b><i>1.5%</i></span></div>
<div class="l" style="left:315px;top:330px;width:25px;height:43px;font-size:9.8px;line-height:10.5px;-webkit-text-stroke:0.3px #fff;padding-top:4px"><span style="transform:translateX(-2.5px) scaleX(0.8471)"><b>..شسپا</b></span></div>
<div class="l" style="left:343px;top:330px;width:23px;height:43px;font-size:9.8px;line-height:10.5px;-webkit-text-stroke:0.3px #fff;padding-top:4px"><span style="transform:translateX(-2.5px) scaleX(0.8471)"><b>..شر</b></span></div>
<div class="l" style="left:337px;top:378px;width:29px;height:30px;font-size:9.8px;line-height:10.5px;-webkit-text-stroke:0.3px #fff;padding-top:4px"><span style="transform:translateX(-2.5px) scaleX(0.8471)"><b>..شبه</b></span></div>
<div class="l" style="left:371px;top:36px;width:151.5px;height:128px;font-size:28.91px;line-height:34.41px;-webkit-text-stroke:0.5px #fff;padding-top:5.8px"><span style="transform:translateX(-13px) scaleX(0.8184)"><b>نوری</b><i>2.98%</i></span></div>
<div class="l" style="left:524.5px;top:36px;width:100px;height:128px;font-size:18.88px;line-height:22.41px;-webkit-text-stroke:0.5px #fff;padding-top:4.6px"><span style="transform:translateX(-13.5px) scaleX(0.8184)"><b>پارسان</b><i>-0.73%</i></span></div>
<div class="l" style="left:371px;top:167.5px;width:81.5px;height:150.5px;font-size:17.94px;line-height:24.46px;-webkit-text-stroke:0.5px #fff;padding-top:7.7px"><span style="transform:translateX(-11.7px) scaleX(0.8184)"><b>شهدیس</b><i>-3%</i></span></div>
<div class="l" style="left:455.5px;top:167.5px;width:121.5px;height:75.5px;font-size:12.54px;line-height:15.07px;-webkit-text-stroke:0.3px #fff;padding-top:6.5px"><span style="transform:translateX(-12.7px) scaleX(0.8471)"><b>تاپیکو</b><i>2.89%</i></span></div>
<div class="l" style="left:579.5px;top:167.5px;width:45px;height:75.5px;font-size:5.24px;line-height:5.62px;font-weight:bold;padding-top:2px"><span style="transform:translateX(-12.5px) scaleX(0.8471)"><b>شیران</b><i>‎-2%</i></span></div>
<div class="l" style="left:456px;top:247px;width:43px;height:77px;font-size:5.24px;line-height:5.62px;font-weight:bold;padding-top:4.4px"><span style="transform:translateX(-12.5px) scaleX(0.8471)"><b>شبصیر</b><i>‎-1%</i></span></div>
<div class="l" style="left:502.5px;top:247px;width:43px;height:37px;font-size:11.4px;line-height:13.88px;-webkit-text-stroke:0.3px #fff;padding-top:4px"><span style="transform:translateX(-2.5px) scaleX(0.8471)"><b>شگستر</b></span></div>
<div class="l" style="left:549px;top:247px;width:37px;height:37px;font-size:11.4px;line-height:13.88px;-webkit-text-stroke:0.3px #fff;padding-top:4px"><span style="transform:translateX(-2.5px) scaleX(0.8471)"><b>بوعلی</b></span></div>
<div class="l" style="left:589px;top:247px;width:35.5px;height:37px;font-size:11.4px;line-height:13.88px;-webkit-text-stroke:0.3px #fff;padding-top:4px"><span style="transform:translateX(-2.5px) scaleX(0.8471)"><b>آریا</b></span></div>
<div class="l" style="left:502.5px;top:289px;width:33px;height:35.5px;font-size:10.49px;line-height:11.23px;-webkit-text-stroke:0.3px #fff;padding-top:4px"><span style="transform:translateX(-2.5px) scaleX(0.8471)"><b>شپدیس</b></span></div>
<div class="l" style="left:538px;top:289px;width:27.5px;height:35.5px;font-size:10.49px;line-height:11.23px;-webkit-text-stroke:0.3px #fff;padding-top:4px"><span style="transform:translateX(-2.5px) scaleX(0.8471)"><b>..شخا</b></span></div>
<div class="l" style="left:569px;top:289px;width:27px;height:35.5px;font-size:10.49px;line-height:11.23px;-webkit-text-stroke:0.3px #fff;padding-top:4px"><span style="transform:translateX(-2.5px) scaleX(0.8471)"><b>..شفا</b></span></div>
<div class="l" style="left:599.5px;top:289px;width:25px;height:35.5px;font-size:10.49px;line-height:11.23px;-webkit-text-stroke:0.3px #fff;padding-top:4px"><span style="transform:translateX(-2.5px) scaleX(0.8471)"><b>شکام</b></span></div>
<div class="l" style="left:371px;top:322.5px;width:81.5px;height:122px;font-size:12.54px;line-height:15.57px;-webkit-text-stroke:0.3px #fff;padding-top:8.6px"><span style="transform:translateX(-11.7px) scaleX(0.8471)"><b>فارس</b><i>2.8%</i></span></div>
<div class="l" style="left:456px;top:327.5px;width:43.5px;height:60px;font-size:11.4px;line-height:13.88px;-webkit-text-stroke:0.3px #fff;padding-top:4px"><span style="transform:translateX(-2.5px) scaleX(0.8471)"><b>کلر</b></span></div>
<div class="l" style="left:456px;top:391px;width:43.5px;height:53.5px;font-size:11.4px;line-height:13.88px;-webkit-text-stroke:0.3px #fff;padding-top:4px"><span style="transform:translateX(-2.5px) scaleX(0.8471)"><b>شاملا</b></span></div>
<div class="l" style="left:502.5px;top:327.5px;width:26.5px;height:28.5px;font-size:10.49px;line-height:11.23px;-webkit-text-stroke:0.3px #fff;padding-top:4px"><span style="transform:translateX(-2.5px) scaleX(0.8471)"><b>..فن</b></span></div>
<div class="l" style="left:532px;top:327.5px;width:21px;height:28.5px;font-size:10.49px;line-height:11.23px;-webkit-text-stroke:0.3px #fff;padding-top:4px"><span style="transform:translateX(-2.5px) scaleX(0.8471)"><b>جم</b></span></div>
<div class="l" style="left:502.5px;top:360px;width:26.5px;height:24px;font-size:10.49px;line-height:11.23px;-webkit-text-stroke:0.3px #fff;padding-top:4px"><span style="transform:translateX(-2.5px) scaleX(0.8471)"><b>پارس</b></span></div>
<div class="l" style="left:532px;top:360px;width:21px;height:24px;font-size:9.8px;line-height:10.5px;-webkit-text-stroke:0.3px #fff;padding-top:4px"><span style="transform:translateX(-2.5px) scaleX(0.8471)"><b>..شت</b></span></div>
<div class="l" style="left:556px;top:360px;width:24px;height:24px;font-size:10.49px;line-height:11.23px;-webkit-text-stroke:0.3px #fff;padding-top:4px"><span style="transform:translateX(-2.5px) scaleX(0.8471)"><b>شفن</b></span></div>
<div class="l" style="left:583px;top:360px;width:19.5px;height:24px;font-size:10.49px;line-height:11.23px;-webkit-text-stroke:0.3px #fff;padding-top:4px"><span style="transform:translateX(-2.5px) scaleX(0.8471)"><b>..ل</b></span></div>
<div class="l" style="left:605px;top:360px;width:19.5px;height:24px;font-size:10.49px;line-height:11.23px;-webkit-text-stroke:0.3px #fff;padding-top:4px"><span style="transform:translateX(-2.5px) scaleX(0.8471)"><b>..ق</b></span></div>
<div class="l" style="left:502.5px;top:389px;width:26.5px;height:28.5px;font-size:10.49px;line-height:11.23px;-webkit-text-stroke:0.3px #fff;padding-top:4px"><span style="transform:translateX(-2.5px) scaleX(0.8471)"><b>شتها</b></span></div>
<div class="l" style="left:502.5px;top:421px;width:26.5px;height:23.5px;font-size:9.8px;line-height:10.5px;-webkit-text-stroke:0.3px #fff;padding-top:4px"><span style="transform:translateX(-2.5px) scaleX(0.8471)"><b>..جم</b></span></div>
<div class="l" style="left:532px;top:421px;width:21px;height:23.5px;font-size:9.8px;line-height:10.5px;-webkit-text-stroke:0.3px #fff;padding-top:4px"><span style="transform:translateX(-2.5px) scaleX(0.8471)"><b>..یا</b></span></div>
<div class="l" style="left:629.5px;top:36px;width:126.5px;height:173px;font-size:29.5px;line-height:31.7px;-webkit-text-stroke:0.5px #fff;padding-top:6.4px"><span style="transform:translateX(-12.3px) scaleX(0.8184)"><b>فزر</b><i>1.82%</i></span></div>
<div class="l" style="left:759.5px;top:36px;width:69.5px;height:173px;font-size:18.64px;line-height:21.87px;-webkit-text-stroke:0.5px #fff;padding-top:7.4px"><span style="transform:translateX(-12.7px) scaleX(0.8184)"><b>ومعادن</b><i>2.99%</i></span></div>
<div class="l" style="left:629.5px;top:212.5px;width:70.5px;height:102.5px;font-size:10.37px;line-height:12.31px;-webkit-text-stroke:0.3px #fff;padding-top:4.2px"><span style="transform:translateX(-11.2px) scaleX(0.8471)"><b>کگل</b><i>2.59%</i></span></div>
<div class="l" style="left:703px;top:212.5px;width:59px;height:102.5px;font-size:8.44px;line-height:9.53px;font-weight:bold;padding-top:7px"><span style="transform:translateX(-13px) scaleX(0.8471)"><b>باما</b><i>2.98%</i></span></div>
<div class="l" style="left:765px;top:212.5px;width:64px;height:41.5px;font-size:11.4px;line-height:13.88px;-webkit-text-stroke:0.3px #fff;padding-top:4px"><span style="transform:translateX(-2.5px) scaleX(0.8471)"><b>کاما</b></span></div>
<div class="l" style="left:765px;top:257.5px;width:26px;height:30px;font-size:10.49px;line-height:11.23px;-webkit-text-stroke:0.3px #fff;padding-top:4px"><span style="transform:translateX(-2.5px) scaleX(0.8471)"><b>کچاد</b></span></div>
<div class="l" style="left:794.5px;top:257.5px;width:19.5px;height:28.5px;font-size:10.49px;line-height:11.23px;-webkit-text-stroke:0.3px #fff;padding-top:4px"><span style="transform:translateX(-2.5px) scaleX(0.8471)"><b>اپال</b></span></div>
<div class="l" style="left:765px;top:292px;width:26px;height:23px;font-size:10.49px;line-height:11.23px;-webkit-text-stroke:0.3px #fff;padding-top:4px"><span style="transform:translateX(-2.5px) scaleX(0.8471)"><b>کگهر</b></span></div>
<div class="l" style="left:834px;top:36px;width:177px;height:139px;font-size:29.5px;line-height:33.4px;-webkit-text-stroke:0.5px #fff;padding-top:6.9px"><span style="transform:translateX(-13.9px) scaleX(0.8184)"><b>وبملت</b><i>0.17%</i></span></div>
<div class="l" style="left:834px;top:179px;width:88.5px;height:77px;font-size:10.26px;line-height:10.49px;-webkit-text-stroke:0.3px #fff;padding-top:12px"><span style="transform:translateX(-12.2px) scaleX(0.8471)"><b>وتجارت</b><i>-0.88%</i></span></div>
<div class="l" style="left:834px;top:260px;width:88.5px;height:54.5px;font-size:6.5px;line-height:7.46px;font-weight:bold;padding-top:8.2px"><span style="transform:translateX(-12.5px) scaleX(0.8471)"><b>وبصادر</b><i>-2.48%</i></span></div>
<div class="l" style="left:926px;top:179px;width:51px;height:63.5px;font-size:5.47px;line-height:5.86px;font-weight:bold;padding-top:5px"><span style="transform:translateX(-13.5px) scaleX(0.8471)"><b>وخاور</b><i>‎-2%</i></span></div>
<div class="l" style="left:980px;top:179px;width:31px;height:63.5px;font-size:10.83px;line-height:11.6px;-webkit-text-stroke:0.3px #fff;padding-top:4px"><span style="transform:translateX(-2.5px) scaleX(0.8471)"><b>وپارس</b></span></div>
<div class="l" style="left:926px;top:247px;width:46px;height:34px;font-size:10.83px;line-height:11.6px;-webkit-text-stroke:0.3px #fff;padding-top:4px"><span style="transform:translateX(-2.5px) scaleX(0.8471)"><b>وپاسار</b></span></div>
<div class="l" style="left:974.5px;top:247px;width:36.5px;height:30px;font-size:11.17px;line-height:13.64px;-webkit-text-stroke:0.3px #fff;padding-top:4px"><span style="transform:translateX(-2.5px) scaleX(0.8471)"><b>سامان</b></span></div>
<div class="l" style="left:926px;top:285px;width:46px;height:29.5px;font-size:10.83px;line-height:11.6px;-webkit-text-stroke:0.3px #fff;padding-top:4px"><span style="transform:translateX(-2.5px) scaleX(0.8471)"><b>وسینا</b></span></div>
<div class="l" style="left:1015px;top:36px;width:164px;height:109.5px;font-size:25.96px;line-height:30.64px;-webkit-text-stroke:0.5px #fff;padding-top:5px"><span style="transform:translateX(-12.5px) scaleX(0.8184)"><b>شستا</b><i>-0.7%</i></span></div>
<div class="l" style="left:1015px;top:149.5px;width:85.5px;height:165px;font-size:20.65px;line-height:23.49px;-webkit-text-stroke:0.5px #fff;padding-top:4.6px"><span style="transform:translateX(-11.6px) scaleX(0.8184)"><b>وغدیر</b><i>-0.1%</i></span></div>
<div class="l" style="left:1104px;top:149.5px;width:75px;height:104.5px;font-size:10.37px;line-height:12.61px;-webkit-text-stroke:0.3px #fff;padding-top:4.4px"><span style="transform:translateX(-12.3px) scaleX(0.8471)"><b>وکغدیر</b><i>2.98%</i></span></div>
<div class="l" style="left:1104px;top:257.5px;width:33.5px;height:57px;font-size:10.49px;line-height:11.23px;-webkit-text-stroke:0.3px #fff;padding-top:4px"><span style="transform:translateX(-2.5px) scaleX(0.8471)"><b>..وصند</b></span></div>
<div class="l" style="left:1140.5px;top:257.5px;width:18.5px;height:36.5px;font-size:10.49px;line-height:11.23px;-webkit-text-stroke:0.3px #fff;padding-top:4px"><span style="transform:translateX(-2.5px) scaleX(0.8471)"><b>..و</b></span></div>
<div class="l" style="left:20px;top:455px;width:170px;height:325.5px;font-size:29.5px;line-height:33.4px;-webkit-text-stroke:0.5px #fff;padding-top:2.3px"><span style="transform:translateX(-11.3px) scaleX(0.8184)"><b>فولاد</b><i>2.98%</i></span></div>
<div class="l" style="left:193px;top:455px;width:173px;height:156px;font-size:29.5px;line-height:32px;-webkit-text-stroke:0.5px #fff;padding-top:7.7px"><span style="transform:translateX(-12.3px) scaleX(0.8184)"><b>فملی</b><i>2.97%</i></span></div>
<div class="l" style="left:193px;top:614.5px;width:60px;height:96.5px;font-size:8.55px;line-height:11.16px;font-weight:bold;padding-top:3.2px"><span style="transform:translateX(-10.8px) scaleX(0.8471)"><b>فخوز</b><i>-2.79%</i></span></div>
<div class="l" style="left:193px;top:714.5px;width:60px;height:66px;font-size:6.95px;line-height:7.45px;font-weight:bold;padding-top:4.4px"><span style="transform:translateX(-11px) scaleX(0.8471)"><b>فاسمین</b><i>2.98%</i></span></div>
<div class="l" style="left:256px;top:614.5px;width:78.5px;height:46.5px;font-size:6.38px;line-height:6.84px;font-weight:bold;padding-top:4px"><span style="transform:translateX(-11px) scaleX(0.8471)"><b>فسپا</b><i>2.8%</i></span></div>
<div class="l" style="left:337.5px;top:614.5px;width:28.5px;height:46.5px;font-size:9.8px;line-height:10.5px;-webkit-text-stroke:0.3px #fff;padding-top:4px"><span style="transform:translateX(-2.5px) scaleX(0.8471)"><b>..سا</b></span></div>
<div class="l" style="left:256px;top:665.5px;width:24px;height:43.5px;font-size:10.49px;line-height:11.23px;-webkit-text-stroke:0.3px #fff;padding-top:4px"><span style="transform:translateX(-2.5px) scaleX(0.8471)"><b>ونوکا</b></span></div>
<div class="l" style="left:283px;top:665.5px;width:26.5px;height:25px;font-size:10.49px;line-height:11.23px;-webkit-text-stroke:0.3px #fff;padding-top:4px"><span style="transform:translateX(-2.5px) scaleX(0.8471)"><b>ارفع</b></span></div>
<div class="l" style="left:312.5px;top:665.5px;width:23.5px;height:25px;font-size:9.8px;line-height:10.5px;-webkit-text-stroke:0.3px #fff;padding-top:4px"><span style="transform:translateX(-2.5px) scaleX(0.8471)"><b>..س</b></span></div>
<div class="l" style="left:339px;top:665.5px;width:27px;height:25px;font-size:9.8px;line-height:10.5px;-webkit-text-stroke:0.3px #fff;padding-top:4px"><span style="transform:translateX(-2.5px) scaleX(0.8471)"><b>..کوب</b></span></div>
<div class="l" style="left:256px;top:712.5px;width:24px;height:35px;font-size:10.49px;line-height:11.23px;-webkit-text-stroke:0.3px #fff;padding-top:4px"><span style="transform:translateX(-2.5px) scaleX(0.8471)"><b>..ف</b></span></div>
<div class="l" style="left:256px;top:750.5px;width:24px;height:30px;font-size:9.8px;line-height:10.5px;-webkit-text-stroke:0.3px #fff;padding-top:4px"><span style="transform:translateX(-2.5px) scaleX(0.8471)"><b>..فو</b></span></div>
<div class="l" style="left:283px;top:694.5px;width:20px;height:29.5px;font-size:9.8px;line-height:10.5px;-webkit-text-stroke:0.3px #fff;padding-top:4px"><span style="transform:translateX(-2.5px) scaleX(0.8471)"><b>فولا</b></span></div>
<div class="l" style="left:283px;top:727.5px;width:20px;height:27.5px;font-size:9.8px;line-height:10.5px;-webkit-text-stroke:0.3px #fff;padding-top:4px"><span style="transform:translateX(-2.5px) scaleX(0.8471)"><b>..ک</b></span></div>
<div class="l" style="left:371px;top:474px;width:188px;height:162px;font-size:29.5px;line-height:33.8px;-webkit-text-stroke:0.5px #fff;padding-top:3.5px"><span style="transform:translateX(-11.4px) scaleX(0.8184)"><b>خودرو</b><i>0.67%</i></span></div>
<div class="l" style="left:562.5px;top:474px;width:62px;height:162px;font-size:14.16px;line-height:17.16px;-webkit-text-stroke:0.5px #fff;padding-top:5.8px"><span style="transform:translateX(-11.6px) scaleX(0.8184)"><b>خگستر</b><i>-1.91%</i></span></div>
<div class="l" style="left:371px;top:641px;width:59px;height:139px;font-size:9.69px;line-height:14.18px;-webkit-text-stroke:0.3px #fff;padding-top:1.8px"><span style="transform:translateX(-10.5px) scaleX(0.8471)"><b>خساپا</b><i>-1.4%</i></span></div>
<div class="l" style="left:434px;top:641px;width:81px;height:68px;font-size:8.83px;line-height:10.76px;font-weight:bold;padding-top:3.6px"><span style="transform:translateX(-13px) scaleX(0.8471)"><b>خزامیا</b><i>-2.33%</i></span></div>
<div class="l" style="left:434px;top:712.5px;width:81px;height:67.5px;font-size:8.66px;line-height:10.58px;font-weight:bold;padding-top:4px"><span style="transform:translateX(-11.9px) scaleX(0.8471)"><b>خبهمن</b><i>1.82%</i></span></div>
<div class="l" style="left:519.5px;top:641px;width:81.5px;height:47px;font-size:6.84px;line-height:5.82px;font-weight:bold;padding-top:4.4px"><span style="transform:translateX(-11.5px) scaleX(0.8471)"><b>خپارس</b><i>-3%</i></span></div>
<div class="l" style="left:604px;top:641px;width:20.5px;height:47px;font-size:10.49px;line-height:11.23px;-webkit-text-stroke:0.3px #fff;padding-top:4px"><span style="transform:translateX(-2.5px) scaleX(0.8471)"><b>..خ</b></span></div>
<div class="l" style="left:519.5px;top:692.5px;width:25.5px;height:33.5px;font-size:10.49px;line-height:11.23px;-webkit-text-stroke:0.3px #fff;padding-top:4px"><span style="transform:translateX(-2.5px) scaleX(0.8471)"><b>خنور</b></span></div>
<div class="l" style="left:548px;top:692.5px;width:19.5px;height:27.5px;font-size:10.49px;line-height:11.23px;-webkit-text-stroke:0.3px #fff;padding-top:4px"><span style="transform:translateX(-2.5px) scaleX(0.8471)"><b>..خ</b></span></div>
<div class="l" style="left:519.5px;top:730px;width:25.5px;height:26px;font-size:9.8px;line-height:10.5px;-webkit-text-stroke:0.3px #fff;padding-top:4px"><span style="transform:translateX(-2.5px) scaleX(0.8471)"><b>خریخت</b></span></div>
<div class="l" style="left:519.5px;top:760px;width:25.5px;height:20px;font-size:9.8px;line-height:10.5px;-webkit-text-stroke:0.3px #fff;padding-top:4px"><span style="transform:translateX(-2.5px) scaleX(0.8471)"><b>ختوقا</b></span></div>
<div class="l" style="left:548px;top:724px;width:19.5px;height:27px;font-size:10.49px;line-height:11.23px;-webkit-text-stroke:0.3px #fff;padding-top:4px"><span style="transform:translateX(-2.5px) scaleX(0.8471)"><b>..خ</b></span></div>
<div class="l" style="left:548px;top:755px;width:19.5px;height:25px;font-size:10.49px;line-height:11.23px;-webkit-text-stroke:0.3px #fff;padding-top:4px"><span style="transform:translateX(-2.5px) scaleX(0.8471)"><b>..خ</b></span></div>
<div class="l" style="left:629.5px;top:344px;width:58px;height:53px;font-size:5.24px;line-height:5.62px;font-weight:bold;padding-top:4px"><span style="transform:translateX(-12.5px) scaleX(0.8471)"><b>ستران</b><i>2.9%</i></span></div>
<div class="l" style="left:691px;top:344px;width:38.5px;height:53px;font-size:11.17px;line-height:13.64px;-webkit-text-stroke:0.3px #fff;padding-top:4px"><span style="transform:translateX(-2.5px) scaleX(0.8471)"><b>سیاقر</b></span></div>
<div class="l" style="left:732.5px;top:344px;width:38px;height:53px;font-size:11.17px;line-height:13.64px;-webkit-text-stroke:0.3px #fff;padding-top:4px"><span style="transform:translateX(-2.5px) scaleX(0.8471)"><b>سخوان</b></span></div>
<div class="l" style="left:629.5px;top:402px;width:38px;height:49px;font-size:10.83px;line-height:11.6px;-webkit-text-stroke:0.3px #fff;padding-top:4px"><span style="transform:translateX(-2.5px) scaleX(0.8471)"><b>سصفها</b></span></div>
<div class="l" style="left:670px;top:402px;width:32.5px;height:38px;font-size:11.17px;line-height:13.64px;-webkit-text-stroke:0.3px #fff;padding-top:4px"><span style="transform:translateX(-2.5px) scaleX(0.8471)"><b>سشرق</b></span></div>
<div class="l" style="left:706px;top:402px;width:32px;height:38px;font-size:10.83px;line-height:11.6px;-webkit-text-stroke:0.3px #fff;padding-top:4px"><span style="transform:translateX(-2.5px) scaleX(0.8471)"><b>سخاش</b></span></div>
<div class="l" style="left:742px;top:402px;width:28.5px;height:38px;font-size:10.83px;line-height:11.6px;-webkit-text-stroke:0.3px #fff;padding-top:4px"><span style="transform:translateX(-2.5px) scaleX(0.8471)"><b>ساربیل</b></span></div>
<div class="l" style="left:670px;top:445px;width:34.5px;height:29px;font-size:10.49px;line-height:11.23px;-webkit-text-stroke:0.3px #fff;padding-top:4px"><span style="transform:translateX(-2.5px) scaleX(0.8471)"><b>سبهگم</b></span></div>
<div class="l" style="left:707.5px;top:445px;width:32px;height:29px;font-size:10.49px;line-height:11.23px;-webkit-text-stroke:0.3px #fff;padding-top:4px"><span style="transform:translateX(-2.5px) scaleX(0.8471)"><b>سیتا</b></span></div>
<div class="l" style="left:743px;top:445px;width:27.5px;height:29px;font-size:10.49px;line-height:11.23px;-webkit-text-stroke:0.3px #fff;padding-top:4px"><span style="transform:translateX(-2.5px) scaleX(0.8471)"><b>سغرب</b></span></div>
<div class="l" style="left:629.5px;top:455px;width:38px;height:36px;font-size:11.17px;line-height:13.64px;-webkit-text-stroke:0.3px #fff;padding-top:4px"><span style="transform:translateX(-2.5px) scaleX(0.8471)"><b>ساروم</b></span></div>
<div class="l" style="left:629.5px;top:495px;width:38px;height:35px;font-size:10.83px;line-height:11.6px;-webkit-text-stroke:0.3px #fff;padding-top:4px"><span style="transform:translateX(-2.5px) scaleX(0.8471)"><b>سپاها</b></span></div>
<div class="l" style="left:629.5px;top:534px;width:38px;height:34px;font-size:10.83px;line-height:11.6px;-webkit-text-stroke:0.3px #fff;padding-top:4px"><span style="transform:translateX(-2.5px) scaleX(0.8471)"><b>سشرق</b></span></div>
<div class="l" style="left:670px;top:479px;width:26px;height:28px;font-size:10.49px;line-height:11.23px;-webkit-text-stroke:0.3px #fff;padding-top:4px"><span style="transform:translateX(-2.5px) scaleX(0.8471)"><b>ساوه</b></span></div>
<div class="l" style="left:670px;top:511px;width:26px;height:28.5px;font-size:9.8px;line-height:10.5px;-webkit-text-stroke:0.3px #fff;padding-top:4px"><span style="transform:translateX(-2.5px) scaleX(0.8471)"><b>سدور</b></span></div>
<div class="l" style="left:670px;top:544px;width:26px;height:24px;font-size:10.49px;line-height:11.23px;-webkit-text-stroke:0.3px #fff;padding-top:4px"><span style="transform:translateX(-2.5px) scaleX(0.8471)"><b>سفانو</b></span></div>
<div class="l" style="left:700px;top:479px;width:24px;height:25px;font-size:9.8px;line-height:10.5px;-webkit-text-stroke:0.3px #fff;padding-top:4px"><span style="transform:translateX(-2.5px) scaleX(0.8471)"><b>..س</b></span></div>
<div class="l" style="left:751px;top:479px;width:19.5px;height:25px;font-size:9.8px;line-height:10.5px;-webkit-text-stroke:0.3px #fff;padding-top:4px"><span style="transform:translateX(-2.5px) scaleX(0.8471)"><b>..سا</b></span></div>
<div class="l" style="left:775px;top:344px;width:59px;height:61px;font-size:6.38px;line-height:6.84px;font-weight:bold;padding-top:3.4px"><span style="transform:translateX(-12.5px) scaleX(0.8471)"><b>وخارزم</b><i>2.98%</i></span></div>
<div class="l" style="left:837px;top:344px;width:48px;height:48px;font-size:11.4px;line-height:13.88px;-webkit-text-stroke:0.3px #fff;padding-top:4px"><span style="transform:translateX(-2.5px) scaleX(0.8471)"><b>آریان</b></span></div>
<div class="l" style="left:888px;top:344px;width:30px;height:48px;font-size:11.17px;line-height:13.64px;-webkit-text-stroke:0.3px #fff;padding-top:4px"><span style="transform:translateX(-2.5px) scaleX(0.8471)"><b>وسپه</b></span></div>
<div class="l" style="left:775px;top:409.5px;width:59px;height:48px;font-size:5.24px;line-height:5.62px;font-weight:bold;padding-top:3.8px"><span style="transform:translateX(-12.5px) scaleX(0.8471)"><b>سرچشمه</b><i>-0.5%</i></span></div>
<div class="l" style="left:837px;top:396px;width:38px;height:34px;font-size:9.8px;line-height:10.5px;-webkit-text-stroke:0.3px #fff;padding-top:4px"><span style="transform:translateX(-2.5px) scaleX(0.8471)"><b>..سنگان</b></span></div>
<div class="l" style="left:878px;top:396px;width:23px;height:34px;font-size:9.8px;line-height:10.5px;-webkit-text-stroke:0.3px #fff;padding-top:4px"><span style="transform:translateX(-2.5px) scaleX(0.8471)"><b>..س</b></span></div>
<div class="l" style="left:775px;top:461px;width:58px;height:47px;font-size:4.56px;line-height:4.88px;font-weight:bold;padding-top:5.6px"><span style="transform:translateX(-12.5px) scaleX(0.8471)"><b>وبیمه</b><i>2.98%</i></span></div>
<div class="l" style="left:922.5px;top:343px;width:26.5px;height:38px;font-size:10.49px;line-height:11.23px;-webkit-text-stroke:0.3px #fff;padding-top:4px"><span style="transform:translateX(-2.5px) scaleX(0.8471)"><b>..دزا</b></span></div>
<div class="l" style="left:922.5px;top:384.5px;width:26.5px;height:28.5px;font-size:10.49px;line-height:11.23px;-webkit-text-stroke:0.3px #fff;padding-top:4px"><span style="transform:translateX(-2.5px) scaleX(0.8471)"><b>..کا</b></span></div>
<div class="l" style="left:922.5px;top:416px;width:26.5px;height:24.5px;font-size:9.8px;line-height:10.5px;-webkit-text-stroke:0.3px #fff;padding-top:4px"><span style="transform:translateX(-2.5px) scaleX(0.8471)"><b>..بهر</b></span></div>
<div class="l" style="left:951px;top:343px;width:20px;height:22.5px;font-size:10.49px;line-height:11.23px;-webkit-text-stroke:0.3px #fff;padding-top:4px"><span style="transform:translateX(-2.5px) scaleX(0.8471)"><b>..و</b></span></div>
<div class="l" style="left:1053px;top:343px;width:32px;height:38px;font-size:11.17px;line-height:13.64px;-webkit-text-stroke:0.3px #fff;padding-top:4px"><span style="transform:translateX(-2.5px) scaleX(0.8471)"><b>غالبر</b></span></div>
<div class="l" style="left:1053px;top:385px;width:32px;height:30.5px;font-size:11.17px;line-height:13.64px;-webkit-text-stroke:0.3px #fff;padding-top:4px"><span style="transform:translateX(-2.5px) scaleX(0.8471)"><b>غزر</b></span></div>
<div class="l" style="left:1053px;top:419px;width:32px;height:21.5px;font-size:10.49px;line-height:11.23px;-webkit-text-stroke:0.3px #fff;padding-top:4px"><span style="transform:translateX(-2.5px) scaleX(0.8471)"><b>..غل</b></span></div>
<div class="l" style="left:1088px;top:343px;width:18px;height:31.5px;font-size:9.8px;line-height:10.5px;-webkit-text-stroke:0.3px #fff;padding-top:4px"><span style="transform:translateX(-2.5px) scaleX(0.8471)"><b>..سا</b></span></div>
<div class="l" style="left:1088px;top:378px;width:18px;height:32px;font-size:9.8px;line-height:10.5px;-webkit-text-stroke:0.3px #fff;padding-top:4px"><span style="transform:translateX(-2.5px) scaleX(0.8471)"><b>..سا</b></span></div>
<div class="l" style="left:1088px;top:413px;width:18px;height:27.5px;font-size:10.49px;line-height:11.23px;-webkit-text-stroke:0.3px #fff;padding-top:4px"><span style="transform:translateX(-2.5px) scaleX(0.8471)"><b>..ا</b></span></div>
<div class="l" style="left:629.5px;top:597px;width:81.5px;height:104px;font-size:14.75px;line-height:15.65px;-webkit-text-stroke:0.5px #fff;padding-top:5.8px"><span style="transform:translateX(-12px) scaleX(0.8184)"><b>دماوند/مپنا</b><i>0.57%</i></span></div>
<div class="l" style="left:715px;top:597px;width:55px;height:104px;font-size:7.98px;line-height:10.45px;font-weight:bold;padding-top:2.4px"><span style="transform:translateX(-11.6px) scaleX(0.8471)"><b>بفجر</b><i>1.99%</i></span></div>
<div class="l" style="left:629.5px;top:705px;width:63px;height:75px;font-size:7.41px;line-height:10.24px;font-weight:bold;padding-top:2px"><span style="transform:translateX(-13.1px) scaleX(0.8471)"><b>بجهرم</b><i>1.99%</i></span></div>
<div class="l" style="left:696px;top:705px;width:37px;height:43px;font-size:11.17px;line-height:13.64px;-webkit-text-stroke:0.3px #fff;padding-top:4px"><span style="transform:translateX(-2.5px) scaleX(0.8471)"><b>وهنا</b></span></div>
<div class="l" style="left:696px;top:752.5px;width:37px;height:27.5px;font-size:10.49px;line-height:11.23px;-webkit-text-stroke:0.3px #fff;padding-top:4px"><span style="transform:translateX(-2.5px) scaleX(0.8471)"><b>دماوند</b></span></div>
<div class="l" style="left:736px;top:705px;width:34px;height:25px;font-size:10.49px;line-height:11.23px;-webkit-text-stroke:0.3px #fff;padding-top:4px"><span style="transform:translateX(-2.5px) scaleX(0.8471)"><b>..کوه</b></span></div>
<div class="l" style="left:775px;top:537.5px;width:56px;height:128.5px;font-size:10.83px;line-height:16.6px;-webkit-text-stroke:0.3px #fff;padding-top:4px"><span style="transform:translateX(-13px) scaleX(0.8471)"><b>کالا</b><i>-1.67%</i></span></div>
<div class="l" style="left:835px;top:537.5px;width:83px;height:55.5px;font-size:7.98px;line-height:9.65px;font-weight:bold;padding-top:2.2px"><span style="transform:translateX(-12.5px) scaleX(0.8471)"><b>امین</b><i>1.82%</i></span></div>
<div class="l" style="left:835px;top:597px;width:40px;height:69px;font-size:5.24px;line-height:5.62px;font-weight:bold;padding-top:5.6px"><span style="transform:translateX(-12.5px) scaleX(0.8471)"><b>انرژی</b><i>3%</i></span></div>
<div class="l" style="left:879px;top:598px;width:39px;height:49.5px;font-size:10.49px;line-height:11.23px;-webkit-text-stroke:0.3px #fff;padding-top:4px"><span style="transform:translateX(-2.5px) scaleX(0.8471)"><b>فرابورس</b></span></div>
<div class="l" style="left:775px;top:695.5px;width:60.5px;height:84.5px;font-size:7.41px;line-height:8.04px;font-weight:bold;padding-top:5.8px"><span style="transform:translateX(-13.2px) scaleX(0.8471)"><b>ثملی</b><i>2.87%</i></span></div>
<div class="l" style="left:839.5px;top:695.5px;width:36.5px;height:44px;font-size:10.83px;line-height:11.6px;-webkit-text-stroke:0.3px #fff;padding-top:4px"><span style="transform:translateX(-2.5px) scaleX(0.8471)"><b>ثشاهد</b></span></div>
<div class="l" style="left:839.5px;top:744px;width:36.5px;height:36px;font-size:11.17px;line-height:13.64px;-webkit-text-stroke:0.3px #fff;padding-top:4px"><span style="transform:translateX(-2.5px) scaleX(0.8471)"><b>کرمان</b></span></div>
<div class="l" style="left:923px;top:468px;width:122px;height:74.5px;font-size:16.87px;line-height:17.89px;-webkit-text-stroke:0.5px #fff;padding-top:6.7px"><span style="transform:translateX(-12px) scaleX(0.8184)"><b>رمپنا</b><i>2.94%</i></span></div>
<div class="l" style="left:1055px;top:468px;width:30px;height:56.5px;font-size:10.83px;line-height:11.6px;-webkit-text-stroke:0.3px #fff;padding-top:4px"><span style="transform:translateX(-2.5px) scaleX(0.8471)"><b>رکیش</b></span></div>
<div class="l" style="left:1122px;top:468px;width:23.5px;height:26px;font-size:10.49px;line-height:11.23px;-webkit-text-stroke:0.3px #fff;padding-top:4px"><span style="transform:translateX(-2.5px) scaleX(0.8471)"><b>زقیام</b></span></div>
<div class="l" style="left:923px;top:570px;width:21.5px;height:57.5px;font-size:5.24px;line-height:5.62px;font-weight:bold;padding-bottom:5px"><span style="transform:translateX(-3px) scaleX(0.8471)"><b>بساما</b><i>1%</i></span></div>
<div class="l" style="left:992px;top:570px;width:35px;height:45px;font-size:13.11px;line-height:15.66px;-webkit-text-stroke:0.3px #fff;padding-top:2.6px"><span style="transform:translateX(-2px) scaleX(0.8471)"><b>تکمبا</b></span></div>
<div class="l" style="left:1062px;top:570px;width:44px;height:45px;font-size:5.24px;line-height:5.62px;font-weight:bold;padding-top:2.5px"><span style="transform:translateX(-14px) scaleX(0.8471)"><b>خاور</b><i>2.9%</i></span></div>
<div class="l" style="left:1122.5px;top:570px;width:17.5px;height:45px;font-size:5.24px;line-height:5.62px;font-weight:bold;padding-bottom:5px"><span style="transform:translateX(-1.5px) scaleX(0.8471)"><b>بکاب</b><i>-1%</i></span></div>
<div class="l" style="left:923px;top:655.5px;width:62.5px;height:50.5px;font-size:7.18px;line-height:7.69px;font-weight:bold;padding-top:6px"><span style="transform:translateX(-14px) scaleX(0.8471)"><b>اخابر</b><i>-1.97%</i></span></div>
<div class="l" style="left:923px;top:734.5px;width:29.5px;height:46px;font-size:10.49px;line-height:11.23px;-webkit-text-stroke:0.3px #fff;padding-top:4px"><span style="transform:translateX(-2.5px) scaleX(0.8471)"><b>چدن</b></span></div>
<div class="l" style="left:956px;top:759px;width:19.5px;height:21.5px;font-size:9.8px;line-height:10.5px;-webkit-text-stroke:0.3px #fff;padding-top:4px"><span style="transform:translateX(-2.5px) scaleX(0.8471)"><b>..ا</b></span></div>
<div class="l" style="left:992px;top:642.5px;width:21px;height:25px;font-size:9.8px;line-height:10.5px;-webkit-text-stroke:0.3px #fff;padding-top:4px"><span style="transform:translateX(-2.5px) scaleX(0.8471)"><b>..ح</b></span></div>
<div class="l" style="left:1038px;top:757.5px;width:24.5px;height:23px;font-size:9.8px;line-height:10.5px;-webkit-text-stroke:0.3px #fff;padding-top:4px"><span style="transform:translateX(-2.5px) scaleX(0.8471)"><b>..سنگ</b></span></div>
</div>
</body>
</html>
